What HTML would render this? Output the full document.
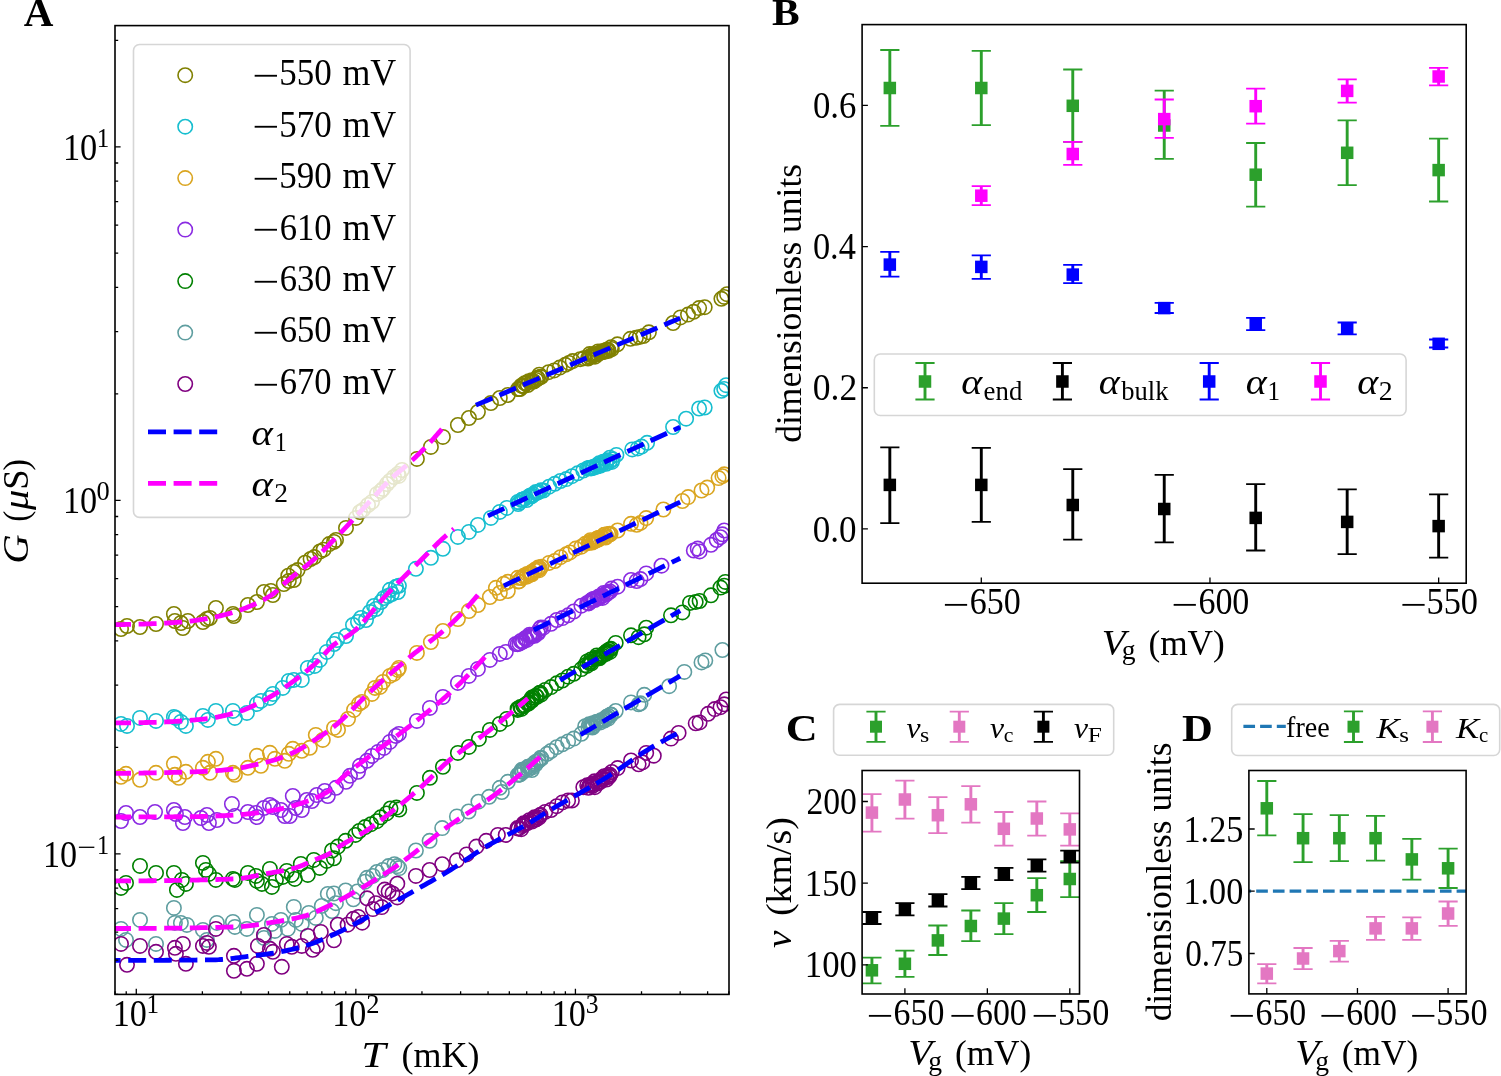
<!DOCTYPE html>
<html><head><meta charset="utf-8"><title>Figure</title><style>html,body{margin:0;padding:0;background:#fff;overflow:hidden;}svg{display:block;}</style></head><body>
<svg width="1501" height="1076" viewBox="0 0 1501 1076" font-family="'Liberation Serif', 'DejaVu Serif', serif"><rect width="100%" height="100%" fill="#fff"/><defs><clipPath id="clipA"><rect x="115.0" y="25.6" width="614.0" height="968.8"/></clipPath>
<clipPath id="clipB"><rect x="862.1" y="24.6" width="604.1" height="558.6"/></clipPath>
<clipPath id="clipC"><rect x="862.1" y="770.5" width="217.4" height="223.5"/></clipPath>
<clipPath id="clipD"><rect x="1248.9" y="770.5" width="217.2" height="223.4"/></clipPath></defs>
<g clip-path="url(#clipA)" fill="none" stroke-width="1.60">
<g stroke="#808000">
<circle cx="121.0" cy="629.0" r="7.2"/>
<circle cx="127.0" cy="626.0" r="7.2"/>
<circle cx="140.0" cy="627.0" r="7.2"/>
<circle cx="156.0" cy="624.0" r="7.2"/>
<circle cx="173.9" cy="614.0" r="7.2"/>
<circle cx="174.9" cy="621.0" r="7.2"/>
<circle cx="180.9" cy="623.0" r="7.2"/>
<circle cx="182.9" cy="628.0" r="7.2"/>
<circle cx="187.9" cy="621.0" r="7.2"/>
<circle cx="202.9" cy="622.0" r="7.2"/>
<circle cx="206.9" cy="619.0" r="7.2"/>
<circle cx="209.9" cy="618.0" r="7.2"/>
<circle cx="215.9" cy="608.0" r="7.2"/>
<circle cx="232.9" cy="614.0" r="7.2"/>
<circle cx="233.9" cy="616.0" r="7.2"/>
<circle cx="247.9" cy="605.0" r="7.2"/>
<circle cx="256.9" cy="602.0" r="7.2"/>
<circle cx="263.9" cy="592.0" r="7.2"/>
<circle cx="270.9" cy="591.0" r="7.2"/>
<circle cx="272.9" cy="595.0" r="7.2"/>
<circle cx="283.8" cy="584.0" r="7.2"/>
<circle cx="288.8" cy="581.0" r="7.2"/>
<circle cx="293.8" cy="580.0" r="7.2"/>
<circle cx="288.3" cy="575.7" r="7.2"/>
<circle cx="293.9" cy="572.0" r="7.2"/>
<circle cx="297.6" cy="570.1" r="7.2"/>
<circle cx="305.1" cy="562.7" r="7.2"/>
<circle cx="310.6" cy="559.0" r="7.2"/>
<circle cx="314.3" cy="557.1" r="7.2"/>
<circle cx="319.9" cy="551.5" r="7.2"/>
<circle cx="323.6" cy="549.7" r="7.2"/>
<circle cx="329.2" cy="544.1" r="7.2"/>
<circle cx="334.0" cy="541.9" r="7.2"/>
<circle cx="336.0" cy="539.9" r="7.2"/>
<circle cx="346.0" cy="527.9" r="7.2"/>
<circle cx="356.0" cy="517.9" r="7.2"/>
<circle cx="363.0" cy="509.9" r="7.2"/>
<circle cx="372.0" cy="501.9" r="7.2"/>
<circle cx="377.0" cy="493.9" r="7.2"/>
<circle cx="383.0" cy="488.9" r="7.2"/>
<circle cx="389.9" cy="480.9" r="7.2"/>
<circle cx="397.9" cy="473.9" r="7.2"/>
<circle cx="398.9" cy="475.9" r="7.2"/>
<circle cx="416.9" cy="458.9" r="7.2"/>
<circle cx="430.9" cy="446.9" r="7.2"/>
<circle cx="442.9" cy="436.9" r="7.2"/>
<circle cx="457.9" cy="425.0" r="7.2"/>
<circle cx="468.9" cy="418.0" r="7.2"/>
<circle cx="477.9" cy="412.0" r="7.2"/>
<circle cx="490.9" cy="403.0" r="7.2"/>
<circle cx="499.8" cy="398.0" r="7.2"/>
<circle cx="507.8" cy="395.0" r="7.2"/>
<circle cx="518.8" cy="389.0" r="7.2"/>
<circle cx="523.8" cy="386.0" r="7.2"/>
<circle cx="527.8" cy="385.0" r="7.2"/>
<circle cx="533.7" cy="381.5" r="7.2"/>
<circle cx="537.4" cy="377.8" r="7.2"/>
<circle cx="541.2" cy="376.9" r="7.2"/>
<circle cx="548.6" cy="372.2" r="7.2"/>
<circle cx="554.2" cy="370.4" r="7.2"/>
<circle cx="559.7" cy="367.6" r="7.2"/>
<circle cx="565.3" cy="364.8" r="7.2"/>
<circle cx="569.0" cy="362.9" r="7.2"/>
<circle cx="572.7" cy="361.1" r="7.2"/>
<circle cx="580.2" cy="359.2" r="7.2"/>
<circle cx="583.9" cy="358.3" r="7.2"/>
<circle cx="589.5" cy="356.4" r="7.2"/>
<circle cx="593.2" cy="355.5" r="7.2"/>
<circle cx="595.0" cy="354.6" r="7.2"/>
<circle cx="596.9" cy="354.6" r="7.2"/>
<circle cx="600.6" cy="352.7" r="7.2"/>
<circle cx="604.3" cy="351.8" r="7.2"/>
<circle cx="608.1" cy="349.9" r="7.2"/>
<circle cx="611.8" cy="349.0" r="7.2"/>
<circle cx="617.4" cy="344.3" r="7.2"/>
<circle cx="630.4" cy="338.8" r="7.2"/>
<circle cx="635.9" cy="337.8" r="7.2"/>
<circle cx="639.7" cy="336.9" r="7.2"/>
<circle cx="643.4" cy="336.0" r="7.2"/>
<circle cx="648.9" cy="332.3" r="7.2"/>
<circle cx="673.1" cy="323.0" r="7.2"/>
<circle cx="680.5" cy="317.4" r="7.2"/>
<circle cx="688.0" cy="314.6" r="7.2"/>
<circle cx="693.6" cy="311.8" r="7.2"/>
<circle cx="699.1" cy="308.1" r="7.2"/>
<circle cx="704.7" cy="307.2" r="7.2"/>
<circle cx="721.4" cy="298.8" r="7.2"/>
<circle cx="724.2" cy="296.9" r="7.2"/>
<circle cx="727.0" cy="294.2" r="7.2"/>
<circle cx="360.0" cy="512.0" r="7.2"/>
<circle cx="368.0" cy="505.0" r="7.2"/>
<circle cx="381.0" cy="491.0" r="7.2"/>
<circle cx="387.0" cy="484.0" r="7.2"/>
<circle cx="394.0" cy="477.0" r="7.2"/>
<circle cx="402.0" cy="470.0" r="7.2"/>
<circle cx="518.0" cy="389.1" r="7.2"/>
<circle cx="520.0" cy="389.0" r="7.2"/>
<circle cx="521.3" cy="385.7" r="7.2"/>
<circle cx="522.6" cy="386.2" r="7.2"/>
<circle cx="524.7" cy="383.2" r="7.2"/>
<circle cx="526.1" cy="383.3" r="7.2"/>
<circle cx="528.7" cy="381.2" r="7.2"/>
<circle cx="531.5" cy="381.8" r="7.2"/>
<circle cx="531.8" cy="380.3" r="7.2"/>
<circle cx="533.4" cy="381.4" r="7.2"/>
<circle cx="536.1" cy="379.9" r="7.2"/>
<circle cx="537.7" cy="378.5" r="7.2"/>
<circle cx="539.3" cy="374.7" r="7.2"/>
<circle cx="540.3" cy="376.8" r="7.2"/>
<circle cx="588.0" cy="358.5" r="7.2"/>
<circle cx="589.6" cy="354.1" r="7.2"/>
<circle cx="589.8" cy="357.2" r="7.2"/>
<circle cx="592.2" cy="355.3" r="7.2"/>
<circle cx="593.4" cy="353.9" r="7.2"/>
<circle cx="595.0" cy="356.7" r="7.2"/>
<circle cx="598.0" cy="354.0" r="7.2"/>
<circle cx="598.1" cy="351.4" r="7.2"/>
<circle cx="600.2" cy="352.3" r="7.2"/>
<circle cx="602.5" cy="352.1" r="7.2"/>
<circle cx="602.9" cy="350.9" r="7.2"/>
<circle cx="604.8" cy="351.3" r="7.2"/>
<circle cx="606.5" cy="349.7" r="7.2"/>
<circle cx="608.0" cy="350.1" r="7.2"/>
<circle cx="608.5" cy="350.9" r="7.2"/>
<circle cx="611.1" cy="347.2" r="7.2"/>
</g>
<g stroke="#17becf">
<circle cx="121.0" cy="723.9" r="7.2"/>
<circle cx="127.0" cy="725.9" r="7.2"/>
<circle cx="140.0" cy="717.9" r="7.2"/>
<circle cx="156.0" cy="720.9" r="7.2"/>
<circle cx="173.9" cy="716.9" r="7.2"/>
<circle cx="175.9" cy="717.9" r="7.2"/>
<circle cx="180.9" cy="721.9" r="7.2"/>
<circle cx="185.9" cy="725.9" r="7.2"/>
<circle cx="202.9" cy="715.9" r="7.2"/>
<circle cx="207.9" cy="719.9" r="7.2"/>
<circle cx="215.9" cy="710.9" r="7.2"/>
<circle cx="232.9" cy="710.9" r="7.2"/>
<circle cx="234.9" cy="717.9" r="7.2"/>
<circle cx="246.9" cy="712.9" r="7.2"/>
<circle cx="256.9" cy="703.9" r="7.2"/>
<circle cx="260.9" cy="700.9" r="7.2"/>
<circle cx="269.9" cy="697.9" r="7.2"/>
<circle cx="272.9" cy="693.9" r="7.2"/>
<circle cx="282.8" cy="687.9" r="7.2"/>
<circle cx="288.8" cy="680.9" r="7.2"/>
<circle cx="293.8" cy="679.9" r="7.2"/>
<circle cx="301.8" cy="679.9" r="7.2"/>
<circle cx="307.8" cy="667.9" r="7.2"/>
<circle cx="314.8" cy="665.9" r="7.2"/>
<circle cx="319.8" cy="659.9" r="7.2"/>
<circle cx="326.8" cy="651.9" r="7.2"/>
<circle cx="389.9" cy="589.8" r="7.2"/>
<circle cx="395.9" cy="586.8" r="7.2"/>
<circle cx="398.9" cy="585.8" r="7.2"/>
<circle cx="415.9" cy="568.8" r="7.2"/>
<circle cx="430.9" cy="557.8" r="7.2"/>
<circle cx="442.9" cy="548.8" r="7.2"/>
<circle cx="457.9" cy="536.9" r="7.2"/>
<circle cx="468.9" cy="531.9" r="7.2"/>
<circle cx="477.9" cy="524.9" r="7.2"/>
<circle cx="490.9" cy="517.9" r="7.2"/>
<circle cx="499.8" cy="511.9" r="7.2"/>
<circle cx="506.8" cy="507.9" r="7.2"/>
<circle cx="517.8" cy="501.9" r="7.2"/>
<circle cx="522.8" cy="499.9" r="7.2"/>
<circle cx="529.8" cy="495.9" r="7.2"/>
<circle cx="334.0" cy="644.0" r="7.2"/>
<circle cx="337.0" cy="640.0" r="7.2"/>
<circle cx="346.0" cy="636.0" r="7.2"/>
<circle cx="353.0" cy="625.0" r="7.2"/>
<circle cx="358.0" cy="622.0" r="7.2"/>
<circle cx="361.0" cy="618.0" r="7.2"/>
<circle cx="366.0" cy="620.0" r="7.2"/>
<circle cx="370.0" cy="612.0" r="7.2"/>
<circle cx="374.0" cy="606.0" r="7.2"/>
<circle cx="376.0" cy="609.0" r="7.2"/>
<circle cx="381.0" cy="602.0" r="7.2"/>
<circle cx="384.0" cy="598.0" r="7.2"/>
<circle cx="387.9" cy="596.0" r="7.2"/>
<circle cx="391.9" cy="594.0" r="7.2"/>
<circle cx="397.9" cy="592.0" r="7.2"/>
<circle cx="609.9" cy="457.7" r="7.2"/>
<circle cx="616.4" cy="454.9" r="7.2"/>
<circle cx="632.2" cy="449.4" r="7.2"/>
<circle cx="637.8" cy="448.4" r="7.2"/>
<circle cx="641.5" cy="446.6" r="7.2"/>
<circle cx="647.1" cy="442.8" r="7.2"/>
<circle cx="673.1" cy="427.0" r="7.2"/>
<circle cx="686.1" cy="418.7" r="7.2"/>
<circle cx="699.1" cy="408.5" r="7.2"/>
<circle cx="704.7" cy="407.5" r="7.2"/>
<circle cx="721.4" cy="390.8" r="7.2"/>
<circle cx="724.2" cy="388.9" r="7.2"/>
<circle cx="726.1" cy="385.2" r="7.2"/>
<circle cx="531.9" cy="496.2" r="7.2"/>
<circle cx="537.6" cy="492.4" r="7.2"/>
<circle cx="543.3" cy="490.5" r="7.2"/>
<circle cx="549.1" cy="486.7" r="7.2"/>
<circle cx="554.8" cy="483.8" r="7.2"/>
<circle cx="560.5" cy="481.0" r="7.2"/>
<circle cx="566.2" cy="479.1" r="7.2"/>
<circle cx="571.9" cy="476.2" r="7.2"/>
<circle cx="577.6" cy="473.3" r="7.2"/>
<circle cx="583.3" cy="470.5" r="7.2"/>
<circle cx="587.2" cy="468.6" r="7.2"/>
<circle cx="592.9" cy="467.6" r="7.2"/>
<circle cx="596.7" cy="466.7" r="7.2"/>
<circle cx="600.5" cy="465.7" r="7.2"/>
<circle cx="606.2" cy="463.8" r="7.2"/>
<circle cx="611.9" cy="461.9" r="7.2"/>
<circle cx="518.2" cy="504.0" r="7.2"/>
<circle cx="519.4" cy="502.6" r="7.2"/>
<circle cx="521.6" cy="500.1" r="7.2"/>
<circle cx="522.4" cy="499.7" r="7.2"/>
<circle cx="524.6" cy="498.8" r="7.2"/>
<circle cx="526.7" cy="500.0" r="7.2"/>
<circle cx="529.3" cy="496.2" r="7.2"/>
<circle cx="531.3" cy="495.3" r="7.2"/>
<circle cx="531.1" cy="496.3" r="7.2"/>
<circle cx="533.3" cy="494.6" r="7.2"/>
<circle cx="536.2" cy="493.0" r="7.2"/>
<circle cx="535.9" cy="492.0" r="7.2"/>
<circle cx="538.9" cy="491.9" r="7.2"/>
<circle cx="540.9" cy="490.3" r="7.2"/>
<circle cx="588.9" cy="467.9" r="7.2"/>
<circle cx="590.1" cy="467.7" r="7.2"/>
<circle cx="591.0" cy="468.4" r="7.2"/>
<circle cx="593.1" cy="467.9" r="7.2"/>
<circle cx="593.9" cy="466.7" r="7.2"/>
<circle cx="596.5" cy="465.6" r="7.2"/>
<circle cx="597.2" cy="466.4" r="7.2"/>
<circle cx="599.2" cy="465.4" r="7.2"/>
<circle cx="599.2" cy="463.3" r="7.2"/>
<circle cx="602.1" cy="463.4" r="7.2"/>
<circle cx="602.0" cy="463.6" r="7.2"/>
<circle cx="603.2" cy="461.7" r="7.2"/>
<circle cx="606.2" cy="462.2" r="7.2"/>
<circle cx="607.2" cy="460.3" r="7.2"/>
<circle cx="609.6" cy="461.6" r="7.2"/>
<circle cx="612.8" cy="459.3" r="7.2"/>
</g>
<g stroke="#daa520">
<circle cx="121.0" cy="776.8" r="7.2"/>
<circle cx="126.0" cy="773.8" r="7.2"/>
<circle cx="140.0" cy="779.8" r="7.2"/>
<circle cx="156.0" cy="772.8" r="7.2"/>
<circle cx="173.9" cy="763.8" r="7.2"/>
<circle cx="174.9" cy="774.8" r="7.2"/>
<circle cx="178.9" cy="777.8" r="7.2"/>
<circle cx="185.9" cy="771.8" r="7.2"/>
<circle cx="202.9" cy="767.8" r="7.2"/>
<circle cx="207.9" cy="761.8" r="7.2"/>
<circle cx="209.9" cy="772.8" r="7.2"/>
<circle cx="215.9" cy="758.8" r="7.2"/>
<circle cx="232.9" cy="772.8" r="7.2"/>
<circle cx="234.9" cy="774.8" r="7.2"/>
<circle cx="247.9" cy="767.8" r="7.2"/>
<circle cx="256.9" cy="755.8" r="7.2"/>
<circle cx="260.9" cy="765.8" r="7.2"/>
<circle cx="269.9" cy="752.8" r="7.2"/>
<circle cx="274.9" cy="758.8" r="7.2"/>
<circle cx="284.8" cy="760.8" r="7.2"/>
<circle cx="288.8" cy="753.8" r="7.2"/>
<circle cx="292.8" cy="748.8" r="7.2"/>
<circle cx="301.8" cy="750.8" r="7.2"/>
<circle cx="309.8" cy="747.8" r="7.2"/>
<circle cx="315.8" cy="734.9" r="7.2"/>
<circle cx="322.8" cy="739.9" r="7.2"/>
<circle cx="495.9" cy="587.8" r="7.2"/>
<circle cx="503.8" cy="583.8" r="7.2"/>
<circle cx="507.8" cy="581.8" r="7.2"/>
<circle cx="517.8" cy="577.8" r="7.2"/>
<circle cx="523.8" cy="575.8" r="7.2"/>
<circle cx="529.8" cy="574.8" r="7.2"/>
<circle cx="334.0" cy="727.9" r="7.2"/>
<circle cx="338.0" cy="729.9" r="7.2"/>
<circle cx="348.0" cy="718.9" r="7.2"/>
<circle cx="354.0" cy="709.9" r="7.2"/>
<circle cx="359.0" cy="703.9" r="7.2"/>
<circle cx="362.0" cy="701.9" r="7.2"/>
<circle cx="372.0" cy="693.9" r="7.2"/>
<circle cx="375.0" cy="687.9" r="7.2"/>
<circle cx="380.0" cy="686.9" r="7.2"/>
<circle cx="383.0" cy="681.9" r="7.2"/>
<circle cx="389.9" cy="675.9" r="7.2"/>
<circle cx="393.9" cy="673.9" r="7.2"/>
<circle cx="397.9" cy="669.9" r="7.2"/>
<circle cx="398.9" cy="667.9" r="7.2"/>
<circle cx="416.9" cy="652.9" r="7.2"/>
<circle cx="430.9" cy="642.0" r="7.2"/>
<circle cx="442.9" cy="631.0" r="7.2"/>
<circle cx="457.9" cy="619.0" r="7.2"/>
<circle cx="468.9" cy="611.0" r="7.2"/>
<circle cx="477.9" cy="605.0" r="7.2"/>
<circle cx="489.9" cy="597.0" r="7.2"/>
<circle cx="499.8" cy="593.0" r="7.2"/>
<circle cx="507.8" cy="591.0" r="7.2"/>
<circle cx="531.9" cy="574.3" r="7.2"/>
<circle cx="537.6" cy="569.5" r="7.2"/>
<circle cx="541.4" cy="566.7" r="7.2"/>
<circle cx="549.1" cy="562.9" r="7.2"/>
<circle cx="554.8" cy="561.0" r="7.2"/>
<circle cx="560.5" cy="557.2" r="7.2"/>
<circle cx="566.2" cy="554.3" r="7.2"/>
<circle cx="570.0" cy="552.4" r="7.2"/>
<circle cx="575.7" cy="548.6" r="7.2"/>
<circle cx="581.4" cy="546.7" r="7.2"/>
<circle cx="585.2" cy="543.8" r="7.2"/>
<circle cx="591.0" cy="541.9" r="7.2"/>
<circle cx="594.8" cy="541.0" r="7.2"/>
<circle cx="596.7" cy="540.0" r="7.2"/>
<circle cx="598.6" cy="538.1" r="7.2"/>
<circle cx="602.4" cy="537.2" r="7.2"/>
<circle cx="606.2" cy="536.2" r="7.2"/>
<circle cx="610.0" cy="534.3" r="7.2"/>
<circle cx="617.6" cy="530.5" r="7.2"/>
<circle cx="631.0" cy="523.8" r="7.2"/>
<circle cx="636.7" cy="524.8" r="7.2"/>
<circle cx="640.5" cy="522.9" r="7.2"/>
<circle cx="646.2" cy="518.1" r="7.2"/>
<circle cx="663.4" cy="509.5" r="7.2"/>
<circle cx="682.4" cy="501.0" r="7.2"/>
<circle cx="688.1" cy="497.1" r="7.2"/>
<circle cx="701.5" cy="490.5" r="7.2"/>
<circle cx="707.2" cy="487.6" r="7.2"/>
<circle cx="718.6" cy="478.1" r="7.2"/>
<circle cx="722.4" cy="476.2" r="7.2"/>
<circle cx="724.3" cy="474.3" r="7.2"/>
<circle cx="518.1" cy="581.6" r="7.2"/>
<circle cx="519.3" cy="581.2" r="7.2"/>
<circle cx="521.4" cy="578.1" r="7.2"/>
<circle cx="521.7" cy="577.7" r="7.2"/>
<circle cx="524.2" cy="576.5" r="7.2"/>
<circle cx="527.1" cy="573.9" r="7.2"/>
<circle cx="526.9" cy="576.7" r="7.2"/>
<circle cx="531.1" cy="572.3" r="7.2"/>
<circle cx="530.8" cy="573.1" r="7.2"/>
<circle cx="534.5" cy="570.1" r="7.2"/>
<circle cx="535.0" cy="570.1" r="7.2"/>
<circle cx="538.1" cy="567.6" r="7.2"/>
<circle cx="539.3" cy="570.2" r="7.2"/>
<circle cx="539.8" cy="568.1" r="7.2"/>
<circle cx="588.8" cy="543.0" r="7.2"/>
<circle cx="589.5" cy="542.1" r="7.2"/>
<circle cx="590.5" cy="540.2" r="7.2"/>
<circle cx="592.3" cy="542.6" r="7.2"/>
<circle cx="593.7" cy="541.0" r="7.2"/>
<circle cx="595.7" cy="540.3" r="7.2"/>
<circle cx="596.9" cy="538.6" r="7.2"/>
<circle cx="598.5" cy="539.5" r="7.2"/>
<circle cx="599.2" cy="537.9" r="7.2"/>
<circle cx="601.2" cy="537.5" r="7.2"/>
<circle cx="604.7" cy="534.7" r="7.2"/>
<circle cx="604.3" cy="534.7" r="7.2"/>
<circle cx="605.6" cy="537.5" r="7.2"/>
<circle cx="608.2" cy="533.9" r="7.2"/>
<circle cx="610.6" cy="533.9" r="7.2"/>
<circle cx="609.8" cy="533.8" r="7.2"/>
</g>
<g stroke="#8a2be2">
<circle cx="121.0" cy="821.0" r="7.2"/>
<circle cx="126.0" cy="813.0" r="7.2"/>
<circle cx="140.0" cy="817.0" r="7.2"/>
<circle cx="155.0" cy="812.0" r="7.2"/>
<circle cx="173.9" cy="810.0" r="7.2"/>
<circle cx="175.9" cy="814.0" r="7.2"/>
<circle cx="182.9" cy="823.0" r="7.2"/>
<circle cx="184.9" cy="817.0" r="7.2"/>
<circle cx="200.9" cy="818.0" r="7.2"/>
<circle cx="206.9" cy="815.0" r="7.2"/>
<circle cx="208.9" cy="823.0" r="7.2"/>
<circle cx="216.9" cy="820.0" r="7.2"/>
<circle cx="231.9" cy="804.0" r="7.2"/>
<circle cx="234.9" cy="816.0" r="7.2"/>
<circle cx="247.9" cy="812.0" r="7.2"/>
<circle cx="255.9" cy="813.0" r="7.2"/>
<circle cx="256.9" cy="817.0" r="7.2"/>
<circle cx="263.9" cy="808.0" r="7.2"/>
<circle cx="269.9" cy="805.0" r="7.2"/>
<circle cx="272.9" cy="807.0" r="7.2"/>
<circle cx="280.9" cy="810.0" r="7.2"/>
<circle cx="284.8" cy="816.0" r="7.2"/>
<circle cx="289.8" cy="816.0" r="7.2"/>
<circle cx="292.8" cy="796.0" r="7.2"/>
<circle cx="295.8" cy="808.0" r="7.2"/>
<circle cx="301.8" cy="810.0" r="7.2"/>
<circle cx="306.8" cy="800.0" r="7.2"/>
<circle cx="311.8" cy="801.0" r="7.2"/>
<circle cx="316.8" cy="795.0" r="7.2"/>
<circle cx="324.8" cy="791.0" r="7.2"/>
<circle cx="327.8" cy="796.0" r="7.2"/>
<circle cx="336.0" cy="787.8" r="7.2"/>
<circle cx="346.0" cy="781.8" r="7.2"/>
<circle cx="350.0" cy="775.8" r="7.2"/>
<circle cx="358.0" cy="771.8" r="7.2"/>
<circle cx="360.0" cy="765.8" r="7.2"/>
<circle cx="367.0" cy="760.8" r="7.2"/>
<circle cx="372.0" cy="755.9" r="7.2"/>
<circle cx="378.0" cy="751.9" r="7.2"/>
<circle cx="384.0" cy="747.9" r="7.2"/>
<circle cx="389.9" cy="741.9" r="7.2"/>
<circle cx="395.9" cy="735.9" r="7.2"/>
<circle cx="398.9" cy="733.9" r="7.2"/>
<circle cx="416.9" cy="720.9" r="7.2"/>
<circle cx="429.9" cy="707.9" r="7.2"/>
<circle cx="442.9" cy="696.9" r="7.2"/>
<circle cx="457.9" cy="682.9" r="7.2"/>
<circle cx="468.9" cy="675.9" r="7.2"/>
<circle cx="477.9" cy="668.9" r="7.2"/>
<circle cx="489.9" cy="659.9" r="7.2"/>
<circle cx="499.8" cy="653.9" r="7.2"/>
<circle cx="505.8" cy="651.9" r="7.2"/>
<circle cx="515.8" cy="644.0" r="7.2"/>
<circle cx="520.8" cy="641.0" r="7.2"/>
<circle cx="525.8" cy="638.0" r="7.2"/>
<circle cx="529.8" cy="636.0" r="7.2"/>
<circle cx="531.9" cy="635.3" r="7.2"/>
<circle cx="537.6" cy="632.4" r="7.2"/>
<circle cx="543.3" cy="627.7" r="7.2"/>
<circle cx="551.0" cy="623.8" r="7.2"/>
<circle cx="556.7" cy="620.0" r="7.2"/>
<circle cx="562.4" cy="618.1" r="7.2"/>
<circle cx="568.1" cy="615.3" r="7.2"/>
<circle cx="573.8" cy="611.5" r="7.2"/>
<circle cx="581.4" cy="605.7" r="7.2"/>
<circle cx="587.2" cy="602.9" r="7.2"/>
<circle cx="591.0" cy="601.0" r="7.2"/>
<circle cx="594.8" cy="600.0" r="7.2"/>
<circle cx="598.6" cy="598.1" r="7.2"/>
<circle cx="602.4" cy="595.3" r="7.2"/>
<circle cx="606.2" cy="593.4" r="7.2"/>
<circle cx="610.0" cy="591.5" r="7.2"/>
<circle cx="617.6" cy="586.7" r="7.2"/>
<circle cx="631.0" cy="580.0" r="7.2"/>
<circle cx="636.7" cy="581.0" r="7.2"/>
<circle cx="640.5" cy="579.1" r="7.2"/>
<circle cx="646.2" cy="573.4" r="7.2"/>
<circle cx="661.5" cy="565.7" r="7.2"/>
<circle cx="693.8" cy="550.5" r="7.2"/>
<circle cx="697.7" cy="548.6" r="7.2"/>
<circle cx="699.6" cy="551.4" r="7.2"/>
<circle cx="711.0" cy="544.8" r="7.2"/>
<circle cx="716.7" cy="540.0" r="7.2"/>
<circle cx="720.5" cy="537.2" r="7.2"/>
<circle cx="722.4" cy="534.3" r="7.2"/>
<circle cx="724.3" cy="530.5" r="7.2"/>
<circle cx="517.6" cy="644.2" r="7.2"/>
<circle cx="519.4" cy="643.5" r="7.2"/>
<circle cx="522.0" cy="641.9" r="7.2"/>
<circle cx="523.1" cy="641.5" r="7.2"/>
<circle cx="525.0" cy="638.5" r="7.2"/>
<circle cx="526.9" cy="639.9" r="7.2"/>
<circle cx="529.6" cy="634.7" r="7.2"/>
<circle cx="530.9" cy="636.7" r="7.2"/>
<circle cx="532.5" cy="635.3" r="7.2"/>
<circle cx="533.5" cy="635.1" r="7.2"/>
<circle cx="534.6" cy="635.8" r="7.2"/>
<circle cx="538.2" cy="633.1" r="7.2"/>
<circle cx="540.0" cy="628.6" r="7.2"/>
<circle cx="540.9" cy="627.4" r="7.2"/>
<circle cx="588.7" cy="602.9" r="7.2"/>
<circle cx="588.7" cy="603.4" r="7.2"/>
<circle cx="591.1" cy="600.3" r="7.2"/>
<circle cx="593.3" cy="599.5" r="7.2"/>
<circle cx="592.8" cy="599.3" r="7.2"/>
<circle cx="594.0" cy="598.9" r="7.2"/>
<circle cx="597.4" cy="598.4" r="7.2"/>
<circle cx="598.8" cy="596.4" r="7.2"/>
<circle cx="600.1" cy="597.1" r="7.2"/>
<circle cx="601.8" cy="596.1" r="7.2"/>
<circle cx="602.6" cy="597.9" r="7.2"/>
<circle cx="603.7" cy="592.9" r="7.2"/>
<circle cx="606.3" cy="594.4" r="7.2"/>
<circle cx="607.2" cy="592.7" r="7.2"/>
<circle cx="608.2" cy="592.2" r="7.2"/>
<circle cx="611.4" cy="588.6" r="7.2"/>
</g>
<g stroke="#008000">
<circle cx="121.0" cy="887.9" r="7.2"/>
<circle cx="126.0" cy="882.9" r="7.2"/>
<circle cx="140.0" cy="865.9" r="7.2"/>
<circle cx="156.0" cy="872.9" r="7.2"/>
<circle cx="173.9" cy="872.9" r="7.2"/>
<circle cx="176.9" cy="889.9" r="7.2"/>
<circle cx="181.9" cy="879.9" r="7.2"/>
<circle cx="185.9" cy="883.9" r="7.2"/>
<circle cx="202.9" cy="862.9" r="7.2"/>
<circle cx="205.9" cy="869.9" r="7.2"/>
<circle cx="208.9" cy="873.9" r="7.2"/>
<circle cx="215.9" cy="879.9" r="7.2"/>
<circle cx="232.9" cy="878.9" r="7.2"/>
<circle cx="234.9" cy="879.9" r="7.2"/>
<circle cx="247.9" cy="872.9" r="7.2"/>
<circle cx="255.9" cy="875.9" r="7.2"/>
<circle cx="256.9" cy="880.9" r="7.2"/>
<circle cx="261.9" cy="883.9" r="7.2"/>
<circle cx="269.9" cy="868.9" r="7.2"/>
<circle cx="271.9" cy="886.9" r="7.2"/>
<circle cx="275.9" cy="879.9" r="7.2"/>
<circle cx="282.8" cy="876.9" r="7.2"/>
<circle cx="286.8" cy="870.9" r="7.2"/>
<circle cx="291.8" cy="874.9" r="7.2"/>
<circle cx="294.8" cy="878.9" r="7.2"/>
<circle cx="300.8" cy="863.9" r="7.2"/>
<circle cx="307.8" cy="874.9" r="7.2"/>
<circle cx="313.8" cy="859.9" r="7.2"/>
<circle cx="319.8" cy="867.9" r="7.2"/>
<circle cx="326.8" cy="860.9" r="7.2"/>
<circle cx="429.9" cy="777.8" r="7.2"/>
<circle cx="442.9" cy="766.8" r="7.2"/>
<circle cx="457.9" cy="752.9" r="7.2"/>
<circle cx="468.9" cy="746.9" r="7.2"/>
<circle cx="478.9" cy="738.9" r="7.2"/>
<circle cx="489.9" cy="729.9" r="7.2"/>
<circle cx="499.8" cy="723.9" r="7.2"/>
<circle cx="506.8" cy="718.9" r="7.2"/>
<circle cx="517.8" cy="709.9" r="7.2"/>
<circle cx="523.8" cy="705.9" r="7.2"/>
<circle cx="527.8" cy="703.9" r="7.2"/>
<circle cx="333.9" cy="858.3" r="7.2"/>
<circle cx="332.0" cy="850.5" r="7.2"/>
<circle cx="337.8" cy="846.6" r="7.2"/>
<circle cx="345.6" cy="840.8" r="7.2"/>
<circle cx="355.4" cy="834.9" r="7.2"/>
<circle cx="359.3" cy="831.0" r="7.2"/>
<circle cx="365.1" cy="827.1" r="7.2"/>
<circle cx="371.0" cy="824.2" r="7.2"/>
<circle cx="376.9" cy="821.2" r="7.2"/>
<circle cx="380.8" cy="817.3" r="7.2"/>
<circle cx="386.6" cy="813.4" r="7.2"/>
<circle cx="390.5" cy="808.5" r="7.2"/>
<circle cx="396.4" cy="807.6" r="7.2"/>
<circle cx="399.3" cy="809.5" r="7.2"/>
<circle cx="416.9" cy="792.9" r="7.2"/>
<circle cx="615.7" cy="642.9" r="7.2"/>
<circle cx="631.0" cy="635.3" r="7.2"/>
<circle cx="638.6" cy="637.2" r="7.2"/>
<circle cx="644.3" cy="634.3" r="7.2"/>
<circle cx="646.2" cy="627.7" r="7.2"/>
<circle cx="671.0" cy="615.3" r="7.2"/>
<circle cx="682.4" cy="612.4" r="7.2"/>
<circle cx="690.0" cy="602.9" r="7.2"/>
<circle cx="695.7" cy="601.9" r="7.2"/>
<circle cx="699.6" cy="601.0" r="7.2"/>
<circle cx="711.0" cy="595.3" r="7.2"/>
<circle cx="720.5" cy="587.6" r="7.2"/>
<circle cx="724.3" cy="585.7" r="7.2"/>
<circle cx="725.3" cy="581.9" r="7.2"/>
<circle cx="531.9" cy="697.6" r="7.2"/>
<circle cx="535.7" cy="695.7" r="7.2"/>
<circle cx="539.5" cy="692.9" r="7.2"/>
<circle cx="545.2" cy="690.0" r="7.2"/>
<circle cx="551.0" cy="687.1" r="7.2"/>
<circle cx="556.7" cy="683.3" r="7.2"/>
<circle cx="562.4" cy="680.5" r="7.2"/>
<circle cx="568.1" cy="676.7" r="7.2"/>
<circle cx="573.8" cy="673.8" r="7.2"/>
<circle cx="581.4" cy="669.1" r="7.2"/>
<circle cx="585.2" cy="665.2" r="7.2"/>
<circle cx="587.2" cy="661.4" r="7.2"/>
<circle cx="591.0" cy="659.5" r="7.2"/>
<circle cx="594.8" cy="658.6" r="7.2"/>
<circle cx="598.6" cy="657.6" r="7.2"/>
<circle cx="602.4" cy="655.7" r="7.2"/>
<circle cx="606.2" cy="653.8" r="7.2"/>
<circle cx="610.0" cy="651.9" r="7.2"/>
<circle cx="517.6" cy="708.7" r="7.2"/>
<circle cx="520.4" cy="707.0" r="7.2"/>
<circle cx="521.5" cy="708.9" r="7.2"/>
<circle cx="523.4" cy="706.3" r="7.2"/>
<circle cx="524.8" cy="705.1" r="7.2"/>
<circle cx="527.8" cy="702.8" r="7.2"/>
<circle cx="528.6" cy="702.3" r="7.2"/>
<circle cx="528.6" cy="703.3" r="7.2"/>
<circle cx="531.6" cy="700.8" r="7.2"/>
<circle cx="532.3" cy="699.8" r="7.2"/>
<circle cx="533.1" cy="697.6" r="7.2"/>
<circle cx="537.0" cy="696.8" r="7.2"/>
<circle cx="540.3" cy="692.8" r="7.2"/>
<circle cx="541.0" cy="694.6" r="7.2"/>
<circle cx="587.0" cy="665.9" r="7.2"/>
<circle cx="589.4" cy="663.2" r="7.2"/>
<circle cx="591.1" cy="661.7" r="7.2"/>
<circle cx="591.5" cy="663.3" r="7.2"/>
<circle cx="595.5" cy="658.0" r="7.2"/>
<circle cx="596.8" cy="657.4" r="7.2"/>
<circle cx="596.8" cy="655.5" r="7.2"/>
<circle cx="599.4" cy="658.3" r="7.2"/>
<circle cx="600.6" cy="656.7" r="7.2"/>
<circle cx="599.7" cy="657.2" r="7.2"/>
<circle cx="603.5" cy="654.4" r="7.2"/>
<circle cx="604.8" cy="652.9" r="7.2"/>
<circle cx="606.5" cy="651.9" r="7.2"/>
<circle cx="607.1" cy="650.9" r="7.2"/>
<circle cx="609.3" cy="649.6" r="7.2"/>
<circle cx="610.9" cy="648.8" r="7.2"/>
</g>
<g stroke="#5f9ea0">
<circle cx="121.0" cy="928.9" r="7.2"/>
<circle cx="126.0" cy="939.9" r="7.2"/>
<circle cx="140.0" cy="919.9" r="7.2"/>
<circle cx="156.0" cy="943.9" r="7.2"/>
<circle cx="173.9" cy="907.9" r="7.2"/>
<circle cx="174.9" cy="922.9" r="7.2"/>
<circle cx="180.9" cy="922.9" r="7.2"/>
<circle cx="186.9" cy="924.9" r="7.2"/>
<circle cx="202.9" cy="929.9" r="7.2"/>
<circle cx="206.9" cy="939.9" r="7.2"/>
<circle cx="216.9" cy="922.9" r="7.2"/>
<circle cx="232.9" cy="921.9" r="7.2"/>
<circle cx="234.9" cy="926.9" r="7.2"/>
<circle cx="246.9" cy="928.9" r="7.2"/>
<circle cx="256.9" cy="914.9" r="7.2"/>
<circle cx="263.9" cy="937.9" r="7.2"/>
<circle cx="271.9" cy="923.9" r="7.2"/>
<circle cx="274.9" cy="930.9" r="7.2"/>
<circle cx="280.9" cy="919.9" r="7.2"/>
<circle cx="287.8" cy="928.9" r="7.2"/>
<circle cx="293.8" cy="906.9" r="7.2"/>
<circle cx="295.8" cy="919.9" r="7.2"/>
<circle cx="301.8" cy="923.9" r="7.2"/>
<circle cx="308.8" cy="912.9" r="7.2"/>
<circle cx="315.8" cy="917.9" r="7.2"/>
<circle cx="321.8" cy="905.9" r="7.2"/>
<circle cx="327.8" cy="893.9" r="7.2"/>
<circle cx="499.8" cy="787.8" r="7.2"/>
<circle cx="507.8" cy="781.8" r="7.2"/>
<circle cx="517.8" cy="774.8" r="7.2"/>
<circle cx="521.8" cy="769.8" r="7.2"/>
<circle cx="527.8" cy="766.8" r="7.2"/>
<circle cx="332.0" cy="911.0" r="7.2"/>
<circle cx="335.9" cy="903.2" r="7.2"/>
<circle cx="333.9" cy="893.5" r="7.2"/>
<circle cx="345.6" cy="890.5" r="7.2"/>
<circle cx="353.4" cy="899.3" r="7.2"/>
<circle cx="357.3" cy="891.5" r="7.2"/>
<circle cx="365.1" cy="881.7" r="7.2"/>
<circle cx="367.1" cy="877.8" r="7.2"/>
<circle cx="372.9" cy="875.9" r="7.2"/>
<circle cx="376.9" cy="872.0" r="7.2"/>
<circle cx="382.7" cy="870.0" r="7.2"/>
<circle cx="388.6" cy="866.1" r="7.2"/>
<circle cx="394.4" cy="864.2" r="7.2"/>
<circle cx="397.3" cy="866.1" r="7.2"/>
<circle cx="399.3" cy="868.1" r="7.2"/>
<circle cx="415.9" cy="850.5" r="7.2"/>
<circle cx="429.6" cy="840.8" r="7.2"/>
<circle cx="442.2" cy="828.1" r="7.2"/>
<circle cx="456.9" cy="816.4" r="7.2"/>
<circle cx="468.6" cy="811.5" r="7.2"/>
<circle cx="478.4" cy="801.7" r="7.2"/>
<circle cx="489.1" cy="796.8" r="7.2"/>
<circle cx="501.8" cy="792.0" r="7.2"/>
<circle cx="531.9" cy="770.0" r="7.2"/>
<circle cx="535.7" cy="764.3" r="7.2"/>
<circle cx="541.4" cy="758.6" r="7.2"/>
<circle cx="547.1" cy="753.8" r="7.2"/>
<circle cx="551.0" cy="751.0" r="7.2"/>
<circle cx="556.7" cy="747.2" r="7.2"/>
<circle cx="562.4" cy="744.3" r="7.2"/>
<circle cx="568.1" cy="741.4" r="7.2"/>
<circle cx="573.8" cy="738.6" r="7.2"/>
<circle cx="581.4" cy="733.8" r="7.2"/>
<circle cx="585.2" cy="726.2" r="7.2"/>
<circle cx="589.1" cy="724.3" r="7.2"/>
<circle cx="592.9" cy="723.3" r="7.2"/>
<circle cx="596.7" cy="722.4" r="7.2"/>
<circle cx="600.5" cy="722.4" r="7.2"/>
<circle cx="604.3" cy="720.5" r="7.2"/>
<circle cx="608.1" cy="718.6" r="7.2"/>
<circle cx="615.7" cy="711.0" r="7.2"/>
<circle cx="631.0" cy="702.4" r="7.2"/>
<circle cx="638.6" cy="704.3" r="7.2"/>
<circle cx="640.5" cy="703.3" r="7.2"/>
<circle cx="644.3" cy="694.8" r="7.2"/>
<circle cx="669.1" cy="686.2" r="7.2"/>
<circle cx="684.3" cy="671.9" r="7.2"/>
<circle cx="701.5" cy="662.4" r="7.2"/>
<circle cx="705.3" cy="660.5" r="7.2"/>
<circle cx="722.4" cy="650.0" r="7.2"/>
<circle cx="519.2" cy="774.7" r="7.2"/>
<circle cx="520.2" cy="774.4" r="7.2"/>
<circle cx="521.5" cy="771.2" r="7.2"/>
<circle cx="522.8" cy="772.0" r="7.2"/>
<circle cx="524.6" cy="769.9" r="7.2"/>
<circle cx="528.1" cy="769.5" r="7.2"/>
<circle cx="529.0" cy="766.7" r="7.2"/>
<circle cx="530.4" cy="767.4" r="7.2"/>
<circle cx="531.9" cy="767.6" r="7.2"/>
<circle cx="533.0" cy="764.3" r="7.2"/>
<circle cx="535.6" cy="762.0" r="7.2"/>
<circle cx="538.2" cy="761.2" r="7.2"/>
<circle cx="538.9" cy="760.4" r="7.2"/>
<circle cx="540.8" cy="757.7" r="7.2"/>
<circle cx="588.4" cy="727.3" r="7.2"/>
<circle cx="591.1" cy="724.6" r="7.2"/>
<circle cx="590.9" cy="726.6" r="7.2"/>
<circle cx="592.4" cy="727.5" r="7.2"/>
<circle cx="593.3" cy="726.3" r="7.2"/>
<circle cx="595.9" cy="722.3" r="7.2"/>
<circle cx="596.2" cy="722.3" r="7.2"/>
<circle cx="597.8" cy="721.7" r="7.2"/>
<circle cx="601.3" cy="720.7" r="7.2"/>
<circle cx="601.1" cy="720.2" r="7.2"/>
<circle cx="604.2" cy="718.9" r="7.2"/>
<circle cx="606.1" cy="717.8" r="7.2"/>
<circle cx="606.6" cy="716.8" r="7.2"/>
<circle cx="608.4" cy="716.0" r="7.2"/>
<circle cx="611.0" cy="714.8" r="7.2"/>
<circle cx="610.8" cy="714.5" r="7.2"/>
</g>
<g stroke="#800080">
<circle cx="121.0" cy="943.9" r="7.2"/>
<circle cx="127.0" cy="964.8" r="7.2"/>
<circle cx="140.0" cy="945.9" r="7.2"/>
<circle cx="156.0" cy="951.8" r="7.2"/>
<circle cx="174.9" cy="947.8" r="7.2"/>
<circle cx="175.9" cy="953.8" r="7.2"/>
<circle cx="182.9" cy="943.9" r="7.2"/>
<circle cx="185.9" cy="963.8" r="7.2"/>
<circle cx="202.9" cy="945.9" r="7.2"/>
<circle cx="206.9" cy="942.9" r="7.2"/>
<circle cx="208.9" cy="946.8" r="7.2"/>
<circle cx="215.9" cy="928.9" r="7.2"/>
<circle cx="233.9" cy="955.8" r="7.2"/>
<circle cx="233.9" cy="970.8" r="7.2"/>
<circle cx="246.9" cy="968.8" r="7.2"/>
<circle cx="256.9" cy="963.8" r="7.2"/>
<circle cx="257.9" cy="945.9" r="7.2"/>
<circle cx="263.9" cy="934.9" r="7.2"/>
<circle cx="269.9" cy="948.8" r="7.2"/>
<circle cx="272.9" cy="951.8" r="7.2"/>
<circle cx="281.8" cy="966.8" r="7.2"/>
<circle cx="286.8" cy="943.9" r="7.2"/>
<circle cx="291.8" cy="946.8" r="7.2"/>
<circle cx="301.8" cy="945.9" r="7.2"/>
<circle cx="307.8" cy="935.9" r="7.2"/>
<circle cx="312.8" cy="949.8" r="7.2"/>
<circle cx="316.8" cy="945.9" r="7.2"/>
<circle cx="320.8" cy="931.9" r="7.2"/>
<circle cx="333.9" cy="940.3" r="7.2"/>
<circle cx="337.8" cy="924.7" r="7.2"/>
<circle cx="347.6" cy="924.7" r="7.2"/>
<circle cx="353.4" cy="918.8" r="7.2"/>
<circle cx="358.3" cy="916.9" r="7.2"/>
<circle cx="362.2" cy="922.7" r="7.2"/>
<circle cx="367.1" cy="898.3" r="7.2"/>
<circle cx="372.9" cy="909.1" r="7.2"/>
<circle cx="375.9" cy="903.2" r="7.2"/>
<circle cx="381.7" cy="907.1" r="7.2"/>
<circle cx="384.7" cy="889.6" r="7.2"/>
<circle cx="388.6" cy="891.5" r="7.2"/>
<circle cx="392.5" cy="893.5" r="7.2"/>
<circle cx="397.3" cy="883.7" r="7.2"/>
<circle cx="397.3" cy="897.4" r="7.2"/>
<circle cx="415.9" cy="875.9" r="7.2"/>
<circle cx="429.6" cy="870.0" r="7.2"/>
<circle cx="442.2" cy="864.2" r="7.2"/>
<circle cx="456.9" cy="860.3" r="7.2"/>
<circle cx="466.6" cy="854.4" r="7.2"/>
<circle cx="476.4" cy="846.6" r="7.2"/>
<circle cx="486.2" cy="840.8" r="7.2"/>
<circle cx="497.9" cy="834.9" r="7.2"/>
<circle cx="505.7" cy="834.9" r="7.2"/>
<circle cx="517.4" cy="828.1" r="7.2"/>
<circle cx="523.3" cy="825.1" r="7.2"/>
<circle cx="527.2" cy="823.2" r="7.2"/>
<circle cx="531.9" cy="821.5" r="7.2"/>
<circle cx="535.7" cy="817.7" r="7.2"/>
<circle cx="539.5" cy="815.7" r="7.2"/>
<circle cx="545.2" cy="811.9" r="7.2"/>
<circle cx="551.0" cy="810.0" r="7.2"/>
<circle cx="556.7" cy="806.2" r="7.2"/>
<circle cx="562.4" cy="802.4" r="7.2"/>
<circle cx="568.1" cy="800.5" r="7.2"/>
<circle cx="571.9" cy="800.5" r="7.2"/>
<circle cx="583.3" cy="787.2" r="7.2"/>
<circle cx="587.2" cy="785.3" r="7.2"/>
<circle cx="592.9" cy="783.4" r="7.2"/>
<circle cx="594.8" cy="787.2" r="7.2"/>
<circle cx="598.6" cy="781.5" r="7.2"/>
<circle cx="602.4" cy="779.5" r="7.2"/>
<circle cx="606.2" cy="777.6" r="7.2"/>
<circle cx="610.0" cy="774.8" r="7.2"/>
<circle cx="617.6" cy="768.1" r="7.2"/>
<circle cx="631.0" cy="760.5" r="7.2"/>
<circle cx="638.6" cy="764.3" r="7.2"/>
<circle cx="642.4" cy="762.4" r="7.2"/>
<circle cx="646.2" cy="752.9" r="7.2"/>
<circle cx="653.8" cy="755.7" r="7.2"/>
<circle cx="671.0" cy="738.6" r="7.2"/>
<circle cx="678.6" cy="732.9" r="7.2"/>
<circle cx="695.7" cy="723.3" r="7.2"/>
<circle cx="699.6" cy="722.4" r="7.2"/>
<circle cx="708.1" cy="713.8" r="7.2"/>
<circle cx="714.8" cy="709.1" r="7.2"/>
<circle cx="720.5" cy="707.2" r="7.2"/>
<circle cx="724.3" cy="704.3" r="7.2"/>
<circle cx="726.2" cy="699.5" r="7.2"/>
<circle cx="518.4" cy="828.7" r="7.2"/>
<circle cx="521.3" cy="829.2" r="7.2"/>
<circle cx="522.0" cy="826.1" r="7.2"/>
<circle cx="523.4" cy="824.1" r="7.2"/>
<circle cx="523.7" cy="823.3" r="7.2"/>
<circle cx="527.2" cy="822.8" r="7.2"/>
<circle cx="527.1" cy="822.7" r="7.2"/>
<circle cx="529.3" cy="820.2" r="7.2"/>
<circle cx="532.8" cy="819.9" r="7.2"/>
<circle cx="534.5" cy="817.3" r="7.2"/>
<circle cx="535.6" cy="819.6" r="7.2"/>
<circle cx="536.1" cy="819.3" r="7.2"/>
<circle cx="538.9" cy="817.7" r="7.2"/>
<circle cx="540.5" cy="814.8" r="7.2"/>
<circle cx="588.4" cy="787.8" r="7.2"/>
<circle cx="589.4" cy="785.3" r="7.2"/>
<circle cx="590.8" cy="784.9" r="7.2"/>
<circle cx="592.3" cy="786.1" r="7.2"/>
<circle cx="593.1" cy="785.2" r="7.2"/>
<circle cx="594.5" cy="781.3" r="7.2"/>
<circle cx="597.8" cy="783.4" r="7.2"/>
<circle cx="598.6" cy="782.0" r="7.2"/>
<circle cx="600.4" cy="781.8" r="7.2"/>
<circle cx="602.6" cy="778.1" r="7.2"/>
<circle cx="601.9" cy="778.7" r="7.2"/>
<circle cx="604.2" cy="776.2" r="7.2"/>
<circle cx="606.5" cy="779.5" r="7.2"/>
<circle cx="608.2" cy="774.9" r="7.2"/>
<circle cx="609.2" cy="776.6" r="7.2"/>
<circle cx="611.8" cy="772.0" r="7.2"/>
</g>
<g fill="none" stroke-width="4.8" stroke-dasharray="18.0,7.6">
<path stroke="#0000ff" d="M475.90,405.14 L481.14,402.91 L486.38,400.68 L491.61,398.45 L496.85,396.21 L502.09,393.98 L507.33,391.75 L512.57,389.52 L517.80,387.29 L523.04,385.06 L528.28,382.83 L533.52,380.59 L538.76,378.36 L543.99,376.13 L549.23,373.90 L554.47,371.67 L559.71,369.44 L564.95,367.21 L570.18,364.97 L575.42,362.74 L580.66,360.51 L585.90,358.28 L591.13,356.05 L596.37,353.82 L601.61,351.59 L606.85,349.35 L612.09,347.12 L617.32,344.89 L622.56,342.66 L627.80,340.43 L633.04,338.20 L638.28,335.97 L643.51,333.73 L648.75,331.50 L653.99,329.27 L659.23,327.04 L664.47,324.81 L669.70,322.58 L674.94,320.35 L680.18,318.11"/>
<path stroke="#0000ff" d="M487.90,515.90 L492.83,513.62 L497.76,511.35 L502.69,509.07 L507.62,506.80 L512.55,504.52 L517.48,502.25 L522.41,499.97 L527.34,497.69 L532.27,495.42 L537.20,493.14 L542.13,490.87 L547.06,488.59 L551.99,486.32 L556.92,484.04 L561.85,481.76 L566.78,479.49 L571.71,477.21 L576.64,474.94 L581.57,472.66 L586.51,470.39 L591.44,468.11 L596.37,465.83 L601.30,463.56 L606.23,461.28 L611.16,459.01 L616.09,456.73 L621.02,454.46 L625.95,452.18 L630.88,449.90 L635.81,447.63 L640.74,445.35 L645.67,443.08 L650.60,440.80 L655.53,438.53 L660.46,436.25 L665.39,433.97 L670.32,431.70 L675.25,429.42 L680.18,427.15"/>
<path stroke="#0000ff" d="M503.80,585.80 L508.32,583.65 L512.85,581.51 L517.37,579.36 L521.89,577.21 L526.41,575.06 L530.94,572.92 L535.46,570.77 L539.98,568.62 L544.50,566.47 L549.03,564.33 L553.55,562.18 L558.07,560.03 L562.59,557.88 L567.12,555.74 L571.64,553.59 L576.16,551.44 L580.68,549.29 L585.21,547.15 L589.73,545.00 L594.25,542.85 L598.77,540.70 L603.30,538.56 L607.82,536.41 L612.34,534.26 L616.86,532.12 L621.39,529.97 L625.91,527.82 L630.43,525.67 L634.95,523.53 L639.48,521.38 L644.00,519.23 L648.52,517.08 L653.04,514.94 L657.57,512.79 L662.09,510.64 L666.61,508.49 L671.13,506.35 L675.66,504.20 L680.18,502.05"/>
<path stroke="#0000ff" d="M533.80,630.00 L537.55,628.16 L541.31,626.32 L545.06,624.48 L548.81,622.64 L552.57,620.80 L556.32,618.96 L560.07,617.12 L563.83,615.28 L567.58,613.44 L571.33,611.60 L575.09,609.76 L578.84,607.93 L582.59,606.09 L586.35,604.25 L590.10,602.41 L593.85,600.57 L597.61,598.73 L601.36,596.89 L605.11,595.05 L608.87,593.21 L612.62,591.37 L616.37,589.53 L620.13,587.69 L623.88,585.85 L627.63,584.01 L631.39,582.17 L635.14,580.33 L638.89,578.49 L642.65,576.65 L646.40,574.81 L650.15,572.97 L653.91,571.13 L657.66,569.29 L661.41,567.45 L665.17,565.62 L668.92,563.78 L672.67,561.94 L676.43,560.10 L680.18,558.26"/>
<path stroke="#0000ff" d="M560.10,680.10 L563.18,678.32 L566.26,676.54 L569.34,674.76 L572.42,672.98 L575.49,671.20 L578.57,669.42 L581.65,667.64 L584.73,665.86 L587.81,664.08 L590.89,662.30 L593.97,660.52 L597.05,658.74 L600.13,656.96 L603.21,655.18 L606.28,653.40 L609.36,651.62 L612.44,649.84 L615.52,648.06 L618.60,646.28 L621.68,644.50 L624.76,642.72 L627.84,640.94 L630.92,639.16 L634.00,637.38 L637.07,635.60 L640.15,633.82 L643.23,632.04 L646.31,630.26 L649.39,628.48 L652.47,626.70 L655.55,624.92 L658.63,623.14 L661.71,621.36 L664.79,619.58 L667.86,617.80 L670.94,616.02 L674.02,614.24 L677.10,612.46 L680.18,610.68"/>
<path stroke="#0000ff" d="M580.50,734.80 L583.06,733.29 L585.61,731.78 L588.17,730.27 L590.72,728.76 L593.28,727.25 L595.84,725.74 L598.39,724.23 L600.95,722.72 L603.50,721.21 L606.06,719.69 L608.61,718.18 L611.17,716.67 L613.73,715.16 L616.28,713.65 L618.84,712.14 L621.39,710.63 L623.95,709.12 L626.51,707.61 L629.06,706.10 L631.62,704.59 L634.17,703.08 L636.73,701.57 L639.29,700.06 L641.84,698.55 L644.40,697.04 L646.95,695.53 L649.51,694.02 L652.07,692.50 L654.62,690.99 L657.18,689.48 L659.73,687.97 L662.29,686.46 L664.84,684.95 L667.40,683.44 L669.96,681.93 L672.51,680.42 L675.07,678.91 L677.62,677.40 L680.18,675.89"/>
<path stroke="#0000ff" d="M102.60,960.39 L105.50,960.40 L108.40,960.40 L111.31,960.40 L114.21,960.40 L117.11,960.40 L120.01,960.40 L122.92,960.40 L125.82,960.39 L128.72,960.39 L131.62,960.39 L134.53,960.38 L137.43,960.38 L140.33,960.37 L143.23,960.36 L146.14,960.35 L149.04,960.34 L151.94,960.33 L154.84,960.32 L157.75,960.31 L160.65,960.29 L163.55,960.28 L166.45,960.26 L169.36,960.24 L172.26,960.22 L175.16,960.20 L178.06,960.18 L180.97,960.16 L183.87,960.14 L186.77,960.11 L189.67,960.09 L192.57,960.06 L195.48,960.03 L198.38,960.00 L201.28,959.97 L204.18,959.94 L207.09,959.90 L209.99,959.87 L212.89,959.83 L215.79,959.79 L218.70,959.68 L221.60,959.50 L224.50,959.26 L227.40,958.97 L230.31,958.64 L233.21,958.28 L236.11,957.91 L239.01,957.54 L241.92,957.17 L244.82,956.82 L247.72,956.49 L250.62,956.15 L253.53,955.81 L256.43,955.46 L259.33,955.09 L262.23,954.71 L265.14,954.31 L268.04,953.90 L270.94,953.46 L273.84,952.99 L276.74,952.50 L279.65,951.97 L282.55,951.41 L285.45,950.81 L288.35,950.18 L291.26,949.52 L294.16,948.82 L297.06,948.09 L299.96,947.32 L302.87,946.51 L305.77,945.67 L308.67,944.76 L311.57,943.76 L314.48,942.68 L317.38,941.55 L320.28,940.36 L323.18,939.14 L326.09,937.88 L328.99,936.60 L331.89,935.31 L334.79,934.00 L337.70,932.65 L340.60,931.26 L343.50,929.82 L346.40,928.35 L349.31,926.86 L352.21,925.33 L355.11,923.78 L358.01,922.22 L360.91,920.64 L363.82,919.06 L366.72,917.47 L369.62,915.88 L372.52,914.29 L375.43,912.71 L378.33,911.13 L381.23,909.53 L384.13,907.92 L387.04,906.30 L389.94,904.66 L392.84,903.02 L395.74,901.37 L398.65,899.71 L401.55,898.05 L404.45,896.39 L407.35,894.72 L410.26,893.06 L413.16,891.39 L416.06,889.73 L418.96,888.08 L421.87,886.43 L424.77,884.80 L427.67,883.17 L430.57,881.54 L433.48,879.91 L436.38,878.27 L439.28,876.61 L442.18,874.93 L445.08,873.21 L447.99,871.46 L450.89,869.66 L453.79,867.80 L456.69,865.91 L459.60,863.99 L462.50,862.05 L465.40,860.10 L468.30,858.14 L471.21,856.19 L474.11,854.26 L477.01,852.36 L479.91,850.49 L482.82,848.66 L485.72,846.89 L488.62,845.17 L491.52,843.51 L494.43,841.88 L497.33,840.28 L500.23,838.71 L503.13,837.17 L506.04,835.63 L508.94,834.11 L511.84,832.58 L514.74,831.05 L517.64,829.50 L520.55,827.93 L523.45,826.34 L526.35,824.72 L529.25,823.06 L532.16,821.35 L535.06,819.55 L537.96,817.69 L540.86,815.82 L543.77,813.98 L546.67,812.20 L549.57,810.46 L552.47,808.73 L555.38,807.03 L558.28,805.34 L561.18,803.67 L564.08,802.02 L566.99,800.37 L569.89,798.72 L572.79,797.08 L575.69,795.45 L578.60,793.81 L581.50,792.16 L584.40,790.51 L587.30,788.85 L590.21,787.18 L593.11,785.49 L596.01,783.78 L598.91,782.05 L601.81,780.30 L604.72,778.52 L607.62,776.71 L610.52,774.85 L613.42,772.94 L616.33,770.99 L619.23,769.02 L622.13,767.02 L625.03,765.00 L627.94,762.99 L630.84,760.97 L633.74,758.97 L636.64,756.98 L639.55,755.03 L642.45,753.11 L645.35,751.23 L648.25,749.41 L651.16,747.64 L654.06,745.94 L656.96,744.27 L659.86,742.65 L662.77,741.06 L665.67,739.50 L668.57,737.98 L671.47,736.48 L674.38,735.01 L677.28,733.57 L680.18,732.15"/>
<path stroke="#ff00ff" d="M113.00,624.60 L114.65,624.60 L116.31,624.59 L117.96,624.58 L119.61,624.57 L121.26,624.55 L122.92,624.53 L124.57,624.50 L126.22,624.47 L127.87,624.44 L129.53,624.41 L131.18,624.37 L132.83,624.33 L134.49,624.28 L136.14,624.24 L137.79,624.19 L139.44,624.14 L141.10,624.09 L142.75,624.03 L144.40,623.98 L146.06,623.92 L147.71,623.86 L149.36,623.80 L151.01,623.75 L152.67,623.69 L154.32,623.62 L155.97,623.56 L157.62,623.50 L159.28,623.42 L160.93,623.35 L162.58,623.26 L164.24,623.17 L165.89,623.08 L167.54,622.98 L169.19,622.87 L170.85,622.77 L172.50,622.65 L174.15,622.53 L175.81,622.41 L177.46,622.28 L179.11,622.15 L180.76,622.02 L182.42,621.88 L184.07,621.73 L185.72,621.57 L187.37,621.39 L189.03,621.21 L190.68,621.02 L192.33,620.82 L193.99,620.61 L195.64,620.39 L197.29,620.16 L198.94,619.93 L200.60,619.69 L202.25,619.43 L203.90,619.18 L205.55,618.91 L207.21,618.63 L208.86,618.33 L210.51,618.02 L212.17,617.69 L213.82,617.34 L215.47,616.98 L217.12,616.61 L218.78,616.22 L220.43,615.82 L222.08,615.41 L223.74,614.99 L225.39,614.55 L227.04,614.11 L228.69,613.65 L230.35,613.19 L232.00,612.71 L233.65,612.21 L235.30,611.69 L236.96,611.15 L238.61,610.59 L240.26,610.00 L241.92,609.40 L243.57,608.78 L245.22,608.14 L246.87,607.48 L248.53,606.81 L250.18,606.11 L251.83,605.40 L253.48,604.68 L255.14,603.94 L256.79,603.18 L258.44,602.40 L260.10,601.59 L261.75,600.76 L263.40,599.89 L265.05,598.98 L266.71,598.04 L268.36,597.05 L270.01,596.01 L271.67,594.92 L273.32,593.77 L274.97,592.47 L276.62,591.02 L278.28,589.46 L279.93,587.84 L281.58,586.20 L283.23,584.61 L284.89,583.10 L286.54,581.67 L288.19,580.28 L289.85,578.91 L291.50,577.56 L293.15,576.23 L294.80,574.92 L296.46,573.61 L298.11,572.31 L299.76,571.02 L301.42,569.72 L303.07,568.41 L304.72,567.09 L306.37,565.75 L308.03,564.40 L309.68,563.02 L311.33,561.61 L312.98,560.17 L314.64,558.70 L316.29,557.18 L317.94,555.64 L319.60,554.08 L321.25,552.48 L322.90,550.87 L324.55,549.23 L326.21,547.58 L327.86,545.91 L329.51,544.23 L331.16,542.54 L332.82,540.84 L334.47,539.13 L336.12,537.42 L337.78,535.71 L339.43,534.00 L341.08,532.30 L342.73,530.58 L344.39,528.85 L346.04,527.11 L347.69,525.35 L349.35,523.59 L351.00,521.82 L352.65,520.04 L354.30,518.26 L355.96,516.47 L357.61,514.68 L359.26,512.89 L360.91,511.10 L362.57,509.31 L364.22,507.52 L365.87,505.74 L367.53,503.95 L369.18,502.18 L370.83,500.41 L372.48,498.61 L374.14,496.80 L375.79,494.97 L377.44,493.14 L379.09,491.30 L380.75,489.48 L382.40,487.67 L384.05,485.88 L385.71,484.12 L387.36,482.40 L389.01,480.71 L390.66,479.08 L392.32,477.51 L393.97,476.01 L395.62,474.56 L397.28,473.17 L398.93,471.79 L400.58,470.43 L402.23,469.06 L403.89,467.66 L405.54,466.22 L407.19,464.74 L408.84,463.25 L410.50,461.74 L412.15,460.23 L413.80,458.70 L415.46,457.15 L417.11,455.59 L418.76,454.00 L420.41,452.39 L422.07,450.75 L423.72,449.08 L425.37,447.39 L427.03,445.67 L428.68,443.92 L430.33,442.14 L431.98,440.34 L433.64,438.51 L435.29,436.66 L436.94,434.78 L438.59,432.87 L440.25,430.95 L441.90,429.00"/>
<path stroke="#ff00ff" d="M113.00,722.90 L114.71,722.90 L116.43,722.90 L118.14,722.89 L119.85,722.89 L121.57,722.88 L123.28,722.87 L124.99,722.85 L126.70,722.83 L128.42,722.81 L130.13,722.79 L131.84,722.77 L133.56,722.74 L135.27,722.72 L136.98,722.69 L138.70,722.66 L140.41,722.62 L142.12,722.59 L143.84,722.55 L145.55,722.52 L147.26,722.48 L148.97,722.44 L150.69,722.40 L152.40,722.36 L154.11,722.32 L155.83,722.28 L157.54,722.23 L159.25,722.18 L160.97,722.12 L162.68,722.06 L164.39,721.99 L166.11,721.91 L167.82,721.83 L169.53,721.75 L171.24,721.66 L172.96,721.56 L174.67,721.46 L176.38,721.35 L178.10,721.24 L179.81,721.12 L181.52,721.00 L183.24,720.88 L184.95,720.75 L186.66,720.61 L188.37,720.47 L190.09,720.33 L191.80,720.18 L193.51,720.03 L195.23,719.87 L196.94,719.71 L198.65,719.55 L200.37,719.38 L202.08,719.20 L203.79,719.03 L205.51,718.85 L207.22,718.65 L208.93,718.43 L210.64,718.18 L212.36,717.92 L214.07,717.64 L215.78,717.34 L217.50,717.02 L219.21,716.68 L220.92,716.33 L222.64,715.96 L224.35,715.58 L226.06,715.18 L227.78,714.77 L229.49,714.34 L231.20,713.91 L232.91,713.46 L234.63,713.00 L236.34,712.52 L238.05,711.99 L239.77,711.41 L241.48,710.80 L243.19,710.14 L244.91,709.46 L246.62,708.75 L248.33,708.01 L250.05,707.25 L251.76,706.48 L253.47,705.70 L255.18,704.92 L256.90,704.11 L258.61,703.27 L260.32,702.40 L262.04,701.50 L263.75,700.58 L265.46,699.63 L267.18,698.66 L268.89,697.67 L270.60,696.66 L272.32,695.64 L274.03,694.60 L275.74,693.54 L277.45,692.45 L279.17,691.34 L280.88,690.19 L282.59,689.02 L284.31,687.83 L286.02,686.61 L287.73,685.38 L289.45,684.13 L291.16,682.86 L292.87,681.59 L294.58,680.31 L296.30,679.02 L298.01,677.73 L299.72,676.41 L301.44,675.09 L303.15,673.75 L304.86,672.38 L306.58,671.00 L308.29,669.60 L310.00,668.16 L311.72,666.70 L313.43,665.21 L315.14,663.69 L316.85,662.08 L318.57,660.37 L320.28,658.58 L321.99,656.75 L323.71,654.89 L325.42,653.04 L327.13,651.21 L328.85,649.43 L330.56,647.73 L332.27,646.13 L333.99,644.65 L335.70,643.32 L337.41,642.12 L339.12,641.03 L340.84,640.00 L342.55,639.01 L344.26,638.03 L345.98,637.03 L347.69,635.97 L349.40,634.84 L351.12,633.60 L352.83,632.23 L354.54,630.75 L356.26,629.19 L357.97,627.53 L359.68,625.81 L361.39,624.01 L363.11,622.14 L364.82,620.23 L366.53,618.27 L368.25,616.27 L369.96,614.24 L371.67,612.20 L373.39,610.13 L375.10,608.07 L376.81,606.00 L378.53,603.95 L380.24,601.91 L381.95,599.90 L383.66,597.93 L385.38,595.99 L387.09,594.11 L388.80,592.29 L390.52,590.51 L392.23,588.73 L393.94,586.97 L395.66,585.23 L397.37,583.49 L399.08,581.76 L400.79,580.04 L402.51,578.33 L404.22,576.63 L405.93,574.93 L407.65,573.24 L409.36,571.55 L411.07,569.86 L412.79,568.17 L414.50,566.49 L416.21,564.80 L417.93,563.11 L419.64,561.42 L421.35,559.73 L423.06,558.03 L424.78,556.32 L426.49,554.61 L428.20,552.88 L429.92,551.13 L431.63,549.38 L433.34,547.64 L435.06,545.91 L436.77,544.21 L438.48,542.55 L440.20,540.93 L441.91,539.34 L443.62,537.78 L445.33,536.24 L447.05,534.72 L448.76,533.23 L450.47,531.76 L452.19,530.32 L453.90,528.90"/>
<path stroke="#ff00ff" d="M113.00,773.42 L114.83,773.40 L116.67,773.38 L118.50,773.37 L120.33,773.35 L122.17,773.32 L124.00,773.30 L125.84,773.28 L127.67,773.26 L129.50,773.23 L131.34,773.21 L133.17,773.18 L135.00,773.15 L136.84,773.12 L138.67,773.09 L140.51,773.06 L142.34,773.03 L144.17,773.00 L146.01,772.97 L147.84,772.93 L149.67,772.90 L151.51,772.87 L153.34,772.83 L155.17,772.80 L157.01,772.76 L158.84,772.73 L160.68,772.69 L162.51,772.65 L164.34,772.62 L166.18,772.58 L168.01,772.54 L169.84,772.50 L171.68,772.46 L173.51,772.42 L175.34,772.37 L177.18,772.33 L179.01,772.28 L180.85,772.23 L182.68,772.18 L184.51,772.13 L186.35,772.08 L188.18,772.02 L190.01,771.97 L191.85,771.91 L193.68,771.84 L195.52,771.78 L197.35,771.71 L199.18,771.64 L201.02,771.57 L202.85,771.49 L204.68,771.41 L206.52,771.33 L208.35,771.23 L210.18,771.13 L212.02,771.01 L213.85,770.89 L215.69,770.75 L217.52,770.61 L219.35,770.46 L221.19,770.29 L223.02,770.12 L224.85,769.94 L226.69,769.75 L228.52,769.56 L230.35,769.35 L232.19,769.14 L234.02,768.92 L235.86,768.69 L237.69,768.42 L239.52,768.12 L241.36,767.78 L243.19,767.42 L245.02,767.04 L246.86,766.64 L248.69,766.23 L250.53,765.81 L252.36,765.40 L254.19,764.98 L256.03,764.57 L257.86,764.16 L259.69,763.75 L261.53,763.33 L263.36,762.91 L265.19,762.47 L267.03,762.01 L268.86,761.54 L270.70,761.05 L272.53,760.53 L274.36,759.99 L276.20,759.42 L278.03,758.82 L279.86,758.18 L281.70,757.51 L283.53,756.81 L285.36,756.08 L287.20,755.33 L289.03,754.54 L290.87,753.73 L292.70,752.89 L294.53,752.02 L296.37,751.13 L298.20,750.17 L300.03,749.16 L301.87,748.10 L303.70,747.00 L305.54,745.87 L307.37,744.71 L309.20,743.53 L311.04,742.34 L312.87,741.15 L314.70,739.96 L316.54,738.78 L318.37,737.58 L320.20,736.38 L322.04,735.16 L323.87,733.92 L325.71,732.66 L327.54,731.37 L329.37,730.04 L331.21,728.69 L333.04,727.29 L334.87,725.84 L336.71,724.34 L338.54,722.76 L340.37,721.13 L342.21,719.45 L344.04,717.72 L345.88,715.95 L347.71,714.15 L349.54,712.31 L351.38,710.46 L353.21,708.59 L355.04,706.71 L356.88,704.84 L358.71,702.96 L360.55,701.10 L362.38,699.25 L364.21,697.43 L366.05,695.63 L367.88,693.88 L369.71,692.16 L371.55,690.48 L373.38,688.81 L375.21,687.15 L377.05,685.50 L378.88,683.85 L380.72,682.21 L382.55,680.58 L384.38,678.96 L386.22,677.35 L388.05,675.74 L389.88,674.14 L391.72,672.55 L393.55,670.96 L395.38,669.38 L397.22,667.81 L399.05,666.24 L400.89,664.68 L402.72,663.12 L404.55,661.57 L406.39,660.03 L408.22,658.49 L410.05,656.95 L411.89,655.44 L413.72,653.95 L415.56,652.49 L417.39,651.05 L419.22,649.62 L421.06,648.21 L422.89,646.81 L424.72,645.42 L426.56,644.02 L428.39,642.63 L430.22,641.24 L432.06,639.83 L433.89,638.42 L435.73,636.98 L437.56,635.53 L439.39,634.06 L441.23,632.56 L443.06,631.03 L444.89,629.47 L446.73,627.87 L448.56,626.23 L450.39,624.54 L452.23,622.81 L454.06,621.04 L455.90,619.23 L457.73,617.38 L459.56,615.50 L461.40,613.58 L463.23,611.62 L465.06,609.64 L466.90,607.62 L468.73,605.58 L470.57,603.51 L472.40,601.42 L474.23,599.30 L476.07,597.16 L477.90,595.00"/>
<path stroke="#ff00ff" d="M113.00,817.00 L114.87,817.00 L116.74,817.00 L118.61,817.00 L120.48,817.00 L122.34,817.00 L124.21,816.99 L126.08,816.99 L127.95,816.99 L129.82,816.99 L131.69,816.98 L133.56,816.98 L135.43,816.97 L137.29,816.97 L139.16,816.96 L141.03,816.96 L142.90,816.95 L144.77,816.94 L146.64,816.94 L148.51,816.93 L150.38,816.92 L152.25,816.91 L154.11,816.90 L155.98,816.89 L157.85,816.88 L159.72,816.87 L161.59,816.86 L163.46,816.85 L165.33,816.84 L167.20,816.83 L169.07,816.81 L170.93,816.80 L172.80,816.79 L174.67,816.77 L176.54,816.76 L178.41,816.75 L180.28,816.73 L182.15,816.72 L184.02,816.70 L185.88,816.68 L187.75,816.67 L189.62,816.65 L191.49,816.63 L193.36,816.62 L195.23,816.60 L197.10,816.58 L198.97,816.55 L200.84,816.51 L202.70,816.47 L204.57,816.42 L206.44,816.37 L208.31,816.31 L210.18,816.24 L212.05,816.17 L213.92,816.10 L215.79,816.02 L217.66,815.94 L219.52,815.85 L221.39,815.76 L223.26,815.66 L225.13,815.57 L227.00,815.46 L228.87,815.36 L230.74,815.25 L232.61,815.14 L234.47,815.03 L236.34,814.91 L238.21,814.78 L240.08,814.64 L241.95,814.48 L243.82,814.32 L245.69,814.13 L247.56,813.94 L249.43,813.74 L251.29,813.52 L253.16,813.30 L255.03,813.06 L256.90,812.81 L258.77,812.56 L260.64,812.29 L262.51,812.02 L264.38,811.74 L266.25,811.45 L268.11,811.15 L269.98,810.85 L271.85,810.54 L273.72,810.22 L275.59,809.90 L277.46,809.55 L279.33,809.19 L281.20,808.80 L283.06,808.38 L284.93,807.95 L286.80,807.49 L288.67,807.02 L290.54,806.52 L292.41,806.00 L294.28,805.46 L296.15,804.90 L298.02,804.32 L299.88,803.73 L301.75,803.11 L303.62,802.48 L305.49,801.83 L307.36,801.17 L309.23,800.49 L311.10,799.79 L312.97,799.06 L314.84,798.30 L316.70,797.50 L318.57,796.65 L320.44,795.75 L322.31,794.79 L324.18,793.76 L326.05,792.66 L327.92,791.49 L329.79,790.23 L331.65,788.88 L333.52,787.34 L335.39,785.06 L337.26,782.62 L339.13,780.67 L341.00,778.87 L342.87,777.14 L344.74,775.47 L346.61,773.86 L348.47,772.30 L350.34,770.79 L352.21,769.31 L354.08,767.86 L355.95,766.44 L357.82,765.04 L359.69,763.65 L361.56,762.27 L363.43,760.88 L365.29,759.49 L367.16,758.08 L369.03,756.65 L370.90,755.20 L372.77,753.76 L374.64,752.33 L376.51,750.92 L378.38,749.51 L380.24,748.12 L382.11,746.73 L383.98,745.35 L385.85,743.98 L387.72,742.61 L389.59,741.24 L391.46,739.87 L393.33,738.49 L395.20,737.12 L397.06,735.73 L398.93,734.35 L400.80,732.95 L402.67,731.54 L404.54,730.13 L406.41,728.69 L408.28,727.25 L410.15,725.78 L412.02,724.32 L413.88,722.85 L415.75,721.38 L417.62,719.90 L419.49,718.43 L421.36,716.95 L423.23,715.46 L425.10,713.97 L426.97,712.47 L428.83,710.96 L430.70,709.44 L432.57,707.91 L434.44,706.36 L436.31,704.80 L438.18,703.22 L440.05,701.63 L441.92,700.02 L443.79,698.39 L445.65,696.74 L447.52,695.06 L449.39,693.37 L451.26,691.64 L453.13,689.90 L455.00,688.13 L456.87,686.34 L458.74,684.52 L460.61,682.69 L462.47,680.83 L464.34,678.95 L466.21,677.05 L468.08,675.13 L469.95,673.19 L471.82,671.22 L473.69,669.25 L475.56,667.25 L477.42,665.23 L479.29,663.20 L481.16,661.15 L483.03,659.08 L484.90,657.00"/>
<path stroke="#ff00ff" d="M113.00,880.90 L115.08,880.90 L117.17,880.90 L119.25,880.90 L121.34,880.90 L123.42,880.89 L125.51,880.89 L127.59,880.88 L129.68,880.87 L131.76,880.87 L133.84,880.86 L135.93,880.85 L138.01,880.84 L140.10,880.82 L142.18,880.81 L144.27,880.80 L146.35,880.78 L148.44,880.76 L150.52,880.75 L152.60,880.73 L154.69,880.71 L156.77,880.69 L158.86,880.66 L160.94,880.64 L163.03,880.61 L165.11,880.59 L167.19,880.56 L169.28,880.53 L171.36,880.50 L173.45,880.47 L175.53,880.43 L177.62,880.40 L179.70,880.37 L181.79,880.33 L183.87,880.29 L185.95,880.25 L188.04,880.21 L190.12,880.17 L192.21,880.12 L194.29,880.08 L196.38,880.03 L198.46,879.98 L200.55,879.93 L202.63,879.88 L204.71,879.83 L206.80,879.78 L208.88,879.72 L210.97,879.67 L213.05,879.61 L215.14,879.55 L217.22,879.49 L219.31,879.42 L221.39,879.36 L223.47,879.29 L225.56,879.23 L227.64,879.16 L229.73,879.09 L231.81,879.01 L233.90,878.94 L235.98,878.86 L238.07,878.72 L240.15,878.51 L242.23,878.26 L244.32,877.95 L246.40,877.61 L248.49,877.24 L250.57,876.83 L252.66,876.41 L254.74,875.98 L256.83,875.54 L258.91,875.10 L260.99,874.67 L263.08,874.26 L265.16,873.87 L267.25,873.50 L269.33,873.13 L271.42,872.77 L273.50,872.41 L275.58,872.04 L277.67,871.67 L279.75,871.29 L281.84,870.90 L283.92,870.49 L286.01,870.06 L288.09,869.61 L290.18,869.13 L292.26,868.62 L294.34,868.08 L296.43,867.48 L298.51,866.80 L300.60,866.03 L302.68,865.20 L304.77,864.32 L306.85,863.41 L308.94,862.48 L311.02,861.54 L313.10,860.63 L315.19,859.74 L317.27,858.89 L319.36,858.07 L321.44,857.25 L323.53,856.41 L325.61,855.51 L327.70,854.54 L329.78,853.47 L331.86,852.22 L333.95,850.63 L336.03,848.93 L338.12,847.38 L340.20,846.00 L342.29,844.68 L344.37,843.41 L346.46,842.18 L348.54,840.98 L350.62,839.80 L352.71,838.64 L354.79,837.49 L356.88,836.33 L358.96,835.15 L361.05,833.95 L363.13,832.72 L365.22,831.45 L367.30,830.12 L369.38,828.74 L371.47,827.30 L373.55,825.81 L375.64,824.28 L377.72,822.72 L379.81,821.12 L381.89,819.50 L383.97,817.86 L386.06,816.20 L388.14,814.53 L390.23,812.85 L392.31,811.17 L394.40,809.50 L396.48,807.83 L398.57,806.15 L400.65,804.46 L402.73,802.76 L404.82,801.05 L406.90,799.32 L408.99,797.58 L411.07,795.82 L413.16,794.04 L415.24,792.24 L417.33,790.42 L419.41,788.56 L421.49,786.66 L423.58,784.71 L425.66,782.72 L427.75,780.70 L429.83,778.67 L431.92,776.62 L434.00,774.57 L436.09,772.53 L438.17,770.51 L440.25,768.50 L442.34,766.53 L444.42,764.61 L446.51,762.73 L448.59,760.91 L450.68,759.15 L452.76,757.45 L454.85,755.79 L456.93,754.16 L459.01,752.57 L461.10,751.00 L463.18,749.46 L465.27,747.93 L467.35,746.43 L469.44,744.93 L471.52,743.44 L473.61,741.95 L475.69,740.46 L477.77,738.96 L479.86,737.46 L481.94,735.93 L484.03,734.39 L486.11,732.82 L488.20,731.23 L490.28,729.60 L492.36,727.95 L494.45,726.30 L496.53,724.63 L498.62,722.96 L500.70,721.27 L502.79,719.57 L504.87,717.87 L506.96,716.15 L509.04,714.43 L511.12,712.70 L513.21,710.95 L515.29,709.20 L517.38,707.44 L519.46,705.67 L521.55,703.89 L523.63,702.10 L525.72,700.30 L527.80,698.50"/>
<path stroke="#ff00ff" d="M113.00,928.50 L115.15,928.50 L117.29,928.50 L119.44,928.50 L121.58,928.50 L123.73,928.49 L125.87,928.49 L128.02,928.48 L130.17,928.48 L132.31,928.47 L134.46,928.46 L136.60,928.45 L138.75,928.44 L140.89,928.43 L143.04,928.42 L145.19,928.41 L147.33,928.39 L149.48,928.38 L151.62,928.36 L153.77,928.34 L155.91,928.32 L158.06,928.31 L160.21,928.29 L162.35,928.26 L164.50,928.24 L166.64,928.22 L168.79,928.19 L170.93,928.17 L173.08,928.14 L175.23,928.11 L177.37,928.09 L179.52,928.06 L181.66,928.03 L183.81,927.99 L185.95,927.96 L188.10,927.93 L190.25,927.89 L192.39,927.86 L194.54,927.82 L196.68,927.78 L198.83,927.74 L200.97,927.70 L203.12,927.66 L205.27,927.61 L207.41,927.57 L209.56,927.53 L211.70,927.48 L213.85,927.43 L215.99,927.38 L218.14,927.33 L220.29,927.28 L222.43,927.23 L224.58,927.18 L226.72,927.12 L228.87,927.07 L231.02,927.01 L233.16,926.95 L235.31,926.89 L237.45,926.81 L239.60,926.69 L241.74,926.54 L243.89,926.36 L246.04,926.15 L248.18,925.92 L250.33,925.66 L252.47,925.39 L254.62,925.09 L256.76,924.78 L258.91,924.46 L261.06,924.13 L263.20,923.79 L265.35,923.45 L267.49,923.10 L269.64,922.75 L271.78,922.41 L273.93,922.07 L276.08,921.73 L278.22,921.39 L280.37,921.05 L282.51,920.69 L284.66,920.32 L286.80,919.94 L288.95,919.55 L291.10,919.13 L293.24,918.70 L295.39,918.25 L297.53,917.77 L299.68,917.27 L301.82,916.74 L303.97,916.18 L306.12,915.58 L308.26,914.90 L310.41,914.15 L312.55,913.33 L314.70,912.45 L316.84,911.52 L318.99,910.55 L321.14,909.55 L323.28,908.52 L325.43,907.49 L327.57,906.45 L329.72,905.42 L331.86,904.39 L334.01,903.31 L336.16,902.19 L338.30,901.03 L340.45,899.86 L342.59,898.68 L344.74,897.50 L346.88,896.31 L349.03,895.11 L351.18,893.90 L353.32,892.69 L355.47,891.47 L357.61,890.24 L359.76,888.99 L361.90,887.74 L364.05,886.49 L366.20,885.22 L368.34,883.94 L370.49,882.65 L372.63,881.34 L374.78,880.03 L376.92,878.71 L379.07,877.37 L381.22,876.02 L383.36,874.66 L385.51,873.29 L387.65,871.90 L389.80,870.50 L391.94,869.08 L394.09,867.65 L396.24,866.21 L398.38,864.74 L400.53,863.23 L402.67,861.69 L404.82,860.11 L406.96,858.50 L409.11,856.87 L411.26,855.21 L413.40,853.54 L415.55,851.84 L417.69,850.14 L419.84,848.42 L421.98,846.70 L424.13,844.97 L426.28,843.24 L428.42,841.52 L430.57,839.80 L432.71,838.09 L434.86,836.39 L437.01,834.71 L439.15,833.04 L441.30,831.40 L443.44,829.79 L445.59,828.20 L447.73,826.64 L449.88,825.12 L452.03,823.62 L454.17,822.14 L456.32,820.68 L458.46,819.24 L460.61,817.81 L462.75,816.39 L464.90,814.99 L467.05,813.59 L469.19,812.19 L471.34,810.79 L473.48,809.39 L475.63,807.98 L477.77,806.57 L479.92,805.14 L482.07,803.70 L484.21,802.25 L486.36,800.77 L488.50,799.27 L490.65,797.75 L492.79,796.20 L494.94,794.62 L497.09,793.01 L499.23,791.37 L501.38,789.72 L503.52,788.05 L505.67,786.35 L507.81,784.64 L509.96,782.92 L512.11,781.17 L514.25,779.41 L516.40,777.63 L518.54,775.83 L520.69,774.02 L522.83,772.19 L524.98,770.34 L527.13,768.48 L529.27,766.60 L531.42,764.71 L533.56,762.80 L535.71,760.88 L537.85,758.95 L540.00,757.00"/>
</g></g>
<path d="M136.28,994.40 V988.80 M355.85,994.40 V988.80 M575.42,994.40 V988.80 M115.00,994.40 V991.20 M126.23,994.40 V991.20 M202.38,994.40 V991.20 M241.04,994.40 V991.20 M268.47,994.40 V991.20 M289.75,994.40 V991.20 M307.14,994.40 V991.20 M321.84,994.40 V991.20 M334.57,994.40 V991.20 M345.80,994.40 V991.20 M421.95,994.40 V991.20 M460.61,994.40 V991.20 M488.04,994.40 V991.20 M509.32,994.40 V991.20 M526.71,994.40 V991.20 M541.41,994.40 V991.20 M554.14,994.40 V991.20 M565.37,994.40 V991.20 M641.52,994.40 V991.20 M680.18,994.40 V991.20 M707.61,994.40 V991.20 M728.89,994.40 V991.20 M115.00,853.80 H120.60 M115.00,500.30 H120.60 M115.00,146.80 H120.60 M115.00,994.47 H118.20 M115.00,960.21 H118.20 M115.00,932.22 H118.20 M115.00,908.56 H118.20 M115.00,888.06 H118.20 M115.00,869.98 H118.20 M115.00,747.39 H118.20 M115.00,685.14 H118.20 M115.00,640.97 H118.20 M115.00,606.71 H118.20 M115.00,578.72 H118.20 M115.00,555.06 H118.20 M115.00,534.56 H118.20 M115.00,516.48 H118.20 M115.00,393.89 H118.20 M115.00,331.64 H118.20 M115.00,287.47 H118.20 M115.00,253.21 H118.20 M115.00,225.22 H118.20 M115.00,201.56 H118.20 M115.00,181.06 H118.20 M115.00,162.98 H118.20 M115.00,40.39 H118.20" stroke="#000" stroke-width="1.3" fill="none"/>
<rect x="115.0" y="25.6" width="614.0" height="968.8" fill="none" stroke="#000" stroke-width="1.6"/>
<rect x="133.5" y="44.5" width="276.6" height="472.9" rx="6" ry="6" fill="#ffffff" fill-opacity="0.8" stroke="#cccccc" stroke-opacity="0.8" stroke-width="1.6"/>
<circle cx="185.2" cy="75.2" r="7.2" fill="none" stroke="#808000" stroke-width="1.60"/>
<text x="252.20" y="87.71" font-size="37.50" textLength="27.11" lengthAdjust="spacingAndGlyphs">−</text>
<text x="279.17" y="85.10" font-size="37.50" textLength="52.46" lengthAdjust="spacingAndGlyphs">550</text>
<text x="342.38" y="85.10" font-size="37.50" textLength="53.85" lengthAdjust="spacingAndGlyphs">mV</text>
<circle cx="185.2" cy="126.7" r="7.2" fill="none" stroke="#17becf" stroke-width="1.60"/>
<text x="252.20" y="139.18" font-size="37.50" textLength="27.11" lengthAdjust="spacingAndGlyphs">−</text>
<text x="279.17" y="136.57" font-size="37.50" textLength="52.46" lengthAdjust="spacingAndGlyphs">570</text>
<text x="342.38" y="136.57" font-size="37.50" textLength="53.85" lengthAdjust="spacingAndGlyphs">mV</text>
<circle cx="185.2" cy="178.1" r="7.2" fill="none" stroke="#daa520" stroke-width="1.60"/>
<text x="252.20" y="190.65" font-size="37.50" textLength="27.11" lengthAdjust="spacingAndGlyphs">−</text>
<text x="279.17" y="188.04" font-size="37.50" textLength="52.46" lengthAdjust="spacingAndGlyphs">590</text>
<text x="342.38" y="188.04" font-size="37.50" textLength="53.85" lengthAdjust="spacingAndGlyphs">mV</text>
<circle cx="185.2" cy="229.6" r="7.2" fill="none" stroke="#8a2be2" stroke-width="1.60"/>
<text x="252.20" y="242.12" font-size="37.50" textLength="27.11" lengthAdjust="spacingAndGlyphs">−</text>
<text x="279.75" y="239.51" font-size="37.50" textLength="51.87" lengthAdjust="spacingAndGlyphs">610</text>
<text x="342.38" y="239.51" font-size="37.50" textLength="53.85" lengthAdjust="spacingAndGlyphs">mV</text>
<circle cx="185.2" cy="281.1" r="7.2" fill="none" stroke="#008000" stroke-width="1.60"/>
<text x="252.20" y="293.59" font-size="37.50" textLength="27.11" lengthAdjust="spacingAndGlyphs">−</text>
<text x="279.75" y="290.98" font-size="37.50" textLength="51.87" lengthAdjust="spacingAndGlyphs">630</text>
<text x="342.38" y="290.98" font-size="37.50" textLength="53.85" lengthAdjust="spacingAndGlyphs">mV</text>
<circle cx="185.2" cy="332.6" r="7.2" fill="none" stroke="#5f9ea0" stroke-width="1.60"/>
<text x="252.20" y="345.06" font-size="37.50" textLength="27.11" lengthAdjust="spacingAndGlyphs">−</text>
<text x="279.75" y="342.45" font-size="37.50" textLength="51.87" lengthAdjust="spacingAndGlyphs">650</text>
<text x="342.38" y="342.45" font-size="37.50" textLength="53.85" lengthAdjust="spacingAndGlyphs">mV</text>
<circle cx="185.2" cy="384.0" r="7.2" fill="none" stroke="#800080" stroke-width="1.60"/>
<text x="252.20" y="396.53" font-size="37.50" textLength="27.11" lengthAdjust="spacingAndGlyphs">−</text>
<text x="279.75" y="393.92" font-size="37.50" textLength="51.87" lengthAdjust="spacingAndGlyphs">670</text>
<text x="342.38" y="393.92" font-size="37.50" textLength="53.85" lengthAdjust="spacingAndGlyphs">mV</text>
<path d="M148,431.8 H217.3" stroke="#0000ff" stroke-width="4.8" stroke-dasharray="18.0,7.6" fill="none"/>
<path d="M148,483.4 H217.3" stroke="#ff00ff" stroke-width="4.8" stroke-dasharray="18.0,7.6" fill="none"/>
<text x="251.58" y="445.45" font-size="35.00" font-style="italic" textLength="21.32" lengthAdjust="spacingAndGlyphs">α</text>
<text x="274.68" y="450.90" font-size="26.25" textLength="12.07" lengthAdjust="spacingAndGlyphs">1</text>
<text x="251.58" y="496.30" font-size="35.00" font-style="italic" textLength="21.32" lengthAdjust="spacingAndGlyphs">α</text>
<text x="274.29" y="501.75" font-size="26.25" textLength="13.75" lengthAdjust="spacingAndGlyphs">2</text>
<text x="62.88" y="159.70" font-size="37.20" textLength="34.32" lengthAdjust="spacingAndGlyphs">10</text>
<text x="96.70" y="146.70" font-size="26.25" textLength="12.50" lengthAdjust="spacingAndGlyphs">1</text>
<text x="62.99" y="513.10" font-size="37.20" textLength="34.21" lengthAdjust="spacingAndGlyphs">10</text>
<text x="96.60" y="500.30" font-size="26.25" textLength="13.21" lengthAdjust="spacingAndGlyphs">0</text>
<text x="43.00" y="866.70" font-size="37.20" textLength="34.10" lengthAdjust="spacingAndGlyphs">10</text>
<text x="77.54" y="855.59" font-size="26.25" textLength="18.76" lengthAdjust="spacingAndGlyphs">−</text>
<text x="96.88" y="853.80" font-size="26.25" textLength="12.07" lengthAdjust="spacingAndGlyphs">1</text>
<text x="112.68" y="1025.70" font-size="37.20" textLength="34.10" lengthAdjust="spacingAndGlyphs">10</text>
<text x="146.48" y="1012.50" font-size="26.25" textLength="12.50" lengthAdjust="spacingAndGlyphs">1</text>
<text x="332.25" y="1025.70" font-size="37.20" textLength="34.10" lengthAdjust="spacingAndGlyphs">10</text>
<text x="366.28" y="1012.50" font-size="26.25" textLength="13.25" lengthAdjust="spacingAndGlyphs">2</text>
<text x="551.82" y="1025.70" font-size="37.20" textLength="34.10" lengthAdjust="spacingAndGlyphs">10</text>
<text x="585.78" y="1012.50" font-size="26.25" textLength="12.86" lengthAdjust="spacingAndGlyphs">3</text>
<text x="361.20" y="1066.80" font-size="36.50" font-style="italic" textLength="24.47" lengthAdjust="spacingAndGlyphs">T</text>
<text x="401.52" y="1066.80" font-size="36.50" textLength="78.00" lengthAdjust="spacingAndGlyphs">(mK)</text>
<text transform="translate(27.60,561.40) rotate(-90)" x="-2.28" y="0" font-size="36.50" font-style="italic" textLength="29.38" lengthAdjust="spacingAndGlyphs">G</text>
<text transform="translate(27.60,520.20) rotate(-90)" x="-1.44" y="0" font-size="36.50" textLength="10.93" lengthAdjust="spacingAndGlyphs">(</text>
<text transform="translate(27.60,510.10) rotate(-90)" x="-0.00" y="0" font-size="36.50" font-style="italic" textLength="20.27" lengthAdjust="spacingAndGlyphs">μ</text>
<text transform="translate(27.60,487.30) rotate(-90)" x="-2.41" y="0" font-size="36.50">S</text>
<text transform="translate(27.60,469.50) rotate(-90)" x="-1.10" y="0" font-size="36.50" textLength="11.49" lengthAdjust="spacingAndGlyphs">)</text>
<text x="23.69" y="25.80" font-size="39.50" font-weight="bold" textLength="29.65" lengthAdjust="spacingAndGlyphs">A</text>
<g clip-path="url(#clipB)" fill="none">
<path d="M889.83,50.00 V125.90" stroke="#2ca02c" stroke-width="2.90"/><path d="M880.23,50.00 h19.20 M880.23,125.90 h19.20" stroke="#2ca02c" stroke-width="1.80"/><rect x="883.58" y="81.75" width="12.50" height="12.50" fill="#2ca02c"/>
<path d="M981.30,50.80 V125.10" stroke="#2ca02c" stroke-width="2.90"/><path d="M971.70,50.80 h19.20 M971.70,125.10 h19.20" stroke="#2ca02c" stroke-width="1.80"/><rect x="975.05" y="81.75" width="12.50" height="12.50" fill="#2ca02c"/>
<path d="M1072.77,69.50 V141.80" stroke="#2ca02c" stroke-width="2.90"/><path d="M1063.17,69.50 h19.20 M1063.17,141.80 h19.20" stroke="#2ca02c" stroke-width="1.80"/><rect x="1066.52" y="99.55" width="12.50" height="12.50" fill="#2ca02c"/>
<path d="M1164.24,90.60 V158.90" stroke="#2ca02c" stroke-width="2.90"/><path d="M1154.64,90.60 h19.20 M1154.64,158.90 h19.20" stroke="#2ca02c" stroke-width="1.80"/><rect x="1157.99" y="119.25" width="12.50" height="12.50" fill="#2ca02c"/>
<path d="M1255.71,143.00 V206.70" stroke="#2ca02c" stroke-width="2.90"/><path d="M1246.11,143.00 h19.20 M1246.11,206.70 h19.20" stroke="#2ca02c" stroke-width="1.80"/><rect x="1249.46" y="168.45" width="12.50" height="12.50" fill="#2ca02c"/>
<path d="M1347.18,120.30 V185.10" stroke="#2ca02c" stroke-width="2.90"/><path d="M1337.58,120.30 h19.20 M1337.58,185.10 h19.20" stroke="#2ca02c" stroke-width="1.80"/><rect x="1340.93" y="146.55" width="12.50" height="12.50" fill="#2ca02c"/>
<path d="M1438.65,138.70 V201.50" stroke="#2ca02c" stroke-width="2.90"/><path d="M1429.05,138.70 h19.20 M1429.05,201.50 h19.20" stroke="#2ca02c" stroke-width="1.80"/><rect x="1432.40" y="163.85" width="12.50" height="12.50" fill="#2ca02c"/>
<path d="M889.83,447.40 V523.10" stroke="#000000" stroke-width="2.90"/><path d="M880.23,447.40 h19.20 M880.23,523.10 h19.20" stroke="#000000" stroke-width="1.80"/><rect x="883.58" y="478.65" width="12.50" height="12.50" fill="#000000"/>
<path d="M981.30,447.80 V521.90" stroke="#000000" stroke-width="2.90"/><path d="M971.70,447.80 h19.20 M971.70,521.90 h19.20" stroke="#000000" stroke-width="1.80"/><rect x="975.05" y="478.65" width="12.50" height="12.50" fill="#000000"/>
<path d="M1072.77,469.20 V539.60" stroke="#000000" stroke-width="2.90"/><path d="M1063.17,469.20 h19.20 M1063.17,539.60 h19.20" stroke="#000000" stroke-width="1.80"/><rect x="1066.52" y="498.75" width="12.50" height="12.50" fill="#000000"/>
<path d="M1164.24,474.80 V542.40" stroke="#000000" stroke-width="2.90"/><path d="M1154.64,474.80 h19.20 M1154.64,542.40 h19.20" stroke="#000000" stroke-width="1.80"/><rect x="1157.99" y="502.75" width="12.50" height="12.50" fill="#000000"/>
<path d="M1255.71,484.10 V550.50" stroke="#000000" stroke-width="2.90"/><path d="M1246.11,484.10 h19.20 M1246.11,550.50 h19.20" stroke="#000000" stroke-width="1.80"/><rect x="1249.46" y="511.65" width="12.50" height="12.50" fill="#000000"/>
<path d="M1347.18,489.30 V554.10" stroke="#000000" stroke-width="2.90"/><path d="M1337.58,489.30 h19.20 M1337.58,554.10 h19.20" stroke="#000000" stroke-width="1.80"/><rect x="1340.93" y="515.65" width="12.50" height="12.50" fill="#000000"/>
<path d="M1438.65,494.30 V557.60" stroke="#000000" stroke-width="2.90"/><path d="M1429.05,494.30 h19.20 M1429.05,557.60 h19.20" stroke="#000000" stroke-width="1.80"/><rect x="1432.40" y="519.85" width="12.50" height="12.50" fill="#000000"/>
<path d="M889.83,251.90 V276.60" stroke="#0000ff" stroke-width="2.90"/><path d="M880.23,251.90 h19.20 M880.23,276.60 h19.20" stroke="#0000ff" stroke-width="1.80"/><rect x="883.58" y="258.35" width="12.50" height="12.50" fill="#0000ff"/>
<path d="M981.30,255.30 V278.80" stroke="#0000ff" stroke-width="2.90"/><path d="M971.70,255.30 h19.20 M971.70,278.80 h19.20" stroke="#0000ff" stroke-width="1.80"/><rect x="975.05" y="260.65" width="12.50" height="12.50" fill="#0000ff"/>
<path d="M1072.77,264.90 V283.10" stroke="#0000ff" stroke-width="2.90"/><path d="M1063.17,264.90 h19.20 M1063.17,283.10 h19.20" stroke="#0000ff" stroke-width="1.80"/><rect x="1066.52" y="268.35" width="12.50" height="12.50" fill="#0000ff"/>
<path d="M1164.24,302.90 V313.00" stroke="#0000ff" stroke-width="2.90"/><path d="M1154.64,302.90 h19.20 M1154.64,313.00 h19.20" stroke="#0000ff" stroke-width="1.80"/><rect x="1157.99" y="301.85" width="12.50" height="12.50" fill="#0000ff"/>
<path d="M1255.71,317.90 V330.20" stroke="#0000ff" stroke-width="2.90"/><path d="M1246.11,317.90 h19.20 M1246.11,330.20 h19.20" stroke="#0000ff" stroke-width="1.80"/><rect x="1249.46" y="317.95" width="12.50" height="12.50" fill="#0000ff"/>
<path d="M1347.18,322.50 V334.30" stroke="#0000ff" stroke-width="2.90"/><path d="M1337.58,322.50 h19.20 M1337.58,334.30 h19.20" stroke="#0000ff" stroke-width="1.80"/><rect x="1340.93" y="321.95" width="12.50" height="12.50" fill="#0000ff"/>
<path d="M1438.65,339.50 V347.50" stroke="#0000ff" stroke-width="2.90"/><path d="M1429.05,339.50 h19.20 M1429.05,347.50 h19.20" stroke="#0000ff" stroke-width="1.80"/><rect x="1432.40" y="337.55" width="12.50" height="12.50" fill="#0000ff"/>
<path d="M981.30,186.10 V205.10" stroke="#ff00ff" stroke-width="2.90"/><path d="M971.70,186.10 h19.20 M971.70,205.10 h19.20" stroke="#ff00ff" stroke-width="1.80"/><rect x="975.05" y="189.45" width="12.50" height="12.50" fill="#ff00ff"/>
<path d="M1072.77,141.80 V164.80" stroke="#ff00ff" stroke-width="2.90"/><path d="M1063.17,141.80 h19.20 M1063.17,164.80 h19.20" stroke="#ff00ff" stroke-width="1.80"/><rect x="1066.52" y="147.75" width="12.50" height="12.50" fill="#ff00ff"/>
<path d="M1164.24,99.50 V137.80" stroke="#ff00ff" stroke-width="2.90"/><path d="M1154.64,99.50 h19.20 M1154.64,137.80 h19.20" stroke="#ff00ff" stroke-width="1.80"/><rect x="1157.99" y="112.85" width="12.50" height="12.50" fill="#ff00ff"/>
<path d="M1255.71,88.60 V123.70" stroke="#ff00ff" stroke-width="2.90"/><path d="M1246.11,88.60 h19.20 M1246.11,123.70 h19.20" stroke="#ff00ff" stroke-width="1.80"/><rect x="1249.46" y="99.95" width="12.50" height="12.50" fill="#ff00ff"/>
<path d="M1347.18,79.40 V102.70" stroke="#ff00ff" stroke-width="2.90"/><path d="M1337.58,79.40 h19.20 M1337.58,102.70 h19.20" stroke="#ff00ff" stroke-width="1.80"/><rect x="1340.93" y="84.65" width="12.50" height="12.50" fill="#ff00ff"/>
<path d="M1438.65,67.90 V85.40" stroke="#ff00ff" stroke-width="2.90"/><path d="M1429.05,67.90 h19.20 M1429.05,85.40 h19.20" stroke="#ff00ff" stroke-width="1.80"/><rect x="1432.40" y="70.25" width="12.50" height="12.50" fill="#ff00ff"/>
</g>
<path d="M981.30,583.20 V577.40 M1209.97,583.20 V577.40 M1438.65,583.20 V577.40 M862.10,528.90 H867.90 M862.10,387.74 H867.90 M862.10,246.58 H867.90 M862.10,105.42 H867.90" stroke="#000" stroke-width="1.3"/>
<rect x="862.1" y="24.6" width="604.1" height="558.6" fill="none" stroke="#000" stroke-width="1.6"/>
<rect x="874.3" y="354.0" width="531.8" height="61.5" rx="6" ry="6" fill="#ffffff" fill-opacity="0.8" stroke="#cccccc" stroke-opacity="0.8" stroke-width="1.6"/>
<path d="M925.00,363.00 V399.50" stroke="#2ca02c" stroke-width="2.90"/><path d="M915.40,363.00 h19.20 M915.40,399.50 h19.20" stroke="#2ca02c" stroke-width="1.80"/><rect x="918.75" y="375.25" width="12.50" height="12.50" fill="#2ca02c"/>
<path d="M1062.40,363.00 V399.50" stroke="#000000" stroke-width="2.90"/><path d="M1052.80,363.00 h19.20 M1052.80,399.50 h19.20" stroke="#000000" stroke-width="1.80"/><rect x="1056.15" y="375.25" width="12.50" height="12.50" fill="#000000"/>
<path d="M1209.20,363.00 V399.50" stroke="#0000ff" stroke-width="2.90"/><path d="M1199.60,363.00 h19.20 M1199.60,399.50 h19.20" stroke="#0000ff" stroke-width="1.80"/><rect x="1202.95" y="375.25" width="12.50" height="12.50" fill="#0000ff"/>
<path d="M1320.50,363.00 V399.50" stroke="#ff00ff" stroke-width="2.90"/><path d="M1310.90,363.00 h19.20 M1310.90,399.50 h19.20" stroke="#ff00ff" stroke-width="1.80"/><rect x="1314.25" y="375.25" width="12.50" height="12.50" fill="#ff00ff"/>
<text x="961.30" y="394.40" font-size="35.00" font-style="italic" textLength="21.02" lengthAdjust="spacingAndGlyphs">α</text>
<text x="983.63" y="399.80" font-size="26.25" textLength="38.69" lengthAdjust="spacingAndGlyphs">end</text>
<text x="1098.70" y="394.40" font-size="35.00" font-style="italic" textLength="21.02" lengthAdjust="spacingAndGlyphs">α</text>
<text x="1121.30" y="399.80" font-size="26.25" textLength="47.20" lengthAdjust="spacingAndGlyphs">bulk</text>
<text x="1245.80" y="394.40" font-size="35.00" font-style="italic" textLength="21.02" lengthAdjust="spacingAndGlyphs">α</text>
<text x="1267.40" y="399.80" font-size="26.25" textLength="12.50" lengthAdjust="spacingAndGlyphs">1</text>
<text x="1357.30" y="394.40" font-size="35.00" font-style="italic" textLength="21.02" lengthAdjust="spacingAndGlyphs">α</text>
<text x="1378.78" y="399.80" font-size="26.25" textLength="13.87" lengthAdjust="spacingAndGlyphs">2</text>
<text x="812.88" y="118.02" font-size="37.20" textLength="43.46" lengthAdjust="spacingAndGlyphs">0.6</text>
<text x="812.89" y="259.18" font-size="37.20" textLength="42.96" lengthAdjust="spacingAndGlyphs">0.4</text>
<text x="812.85" y="400.34" font-size="37.20" textLength="44.44" lengthAdjust="spacingAndGlyphs">0.2</text>
<text x="812.87" y="541.50" font-size="37.20" textLength="43.76" lengthAdjust="spacingAndGlyphs">0.0</text>
<text x="942.61" y="617.26" font-size="37.20" textLength="26.99" lengthAdjust="spacingAndGlyphs">−</text><text x="969.72" y="614.40" font-size="37.20" textLength="50.97" lengthAdjust="spacingAndGlyphs">650</text>
<text x="1171.28" y="617.26" font-size="37.20" textLength="26.99" lengthAdjust="spacingAndGlyphs">−</text><text x="1198.40" y="614.40" font-size="37.20" textLength="50.97" lengthAdjust="spacingAndGlyphs">600</text>
<text x="1399.96" y="617.26" font-size="37.20" textLength="26.99" lengthAdjust="spacingAndGlyphs">−</text><text x="1426.51" y="614.40" font-size="37.20" textLength="51.55" lengthAdjust="spacingAndGlyphs">550</text>
<text x="1101.86" y="655.00" font-size="36.50" font-style="italic" textLength="23.91" lengthAdjust="spacingAndGlyphs">V</text><text x="1121.84" y="659.30" font-size="26.25" textLength="13.81" lengthAdjust="spacingAndGlyphs">g</text><text x="1148.45" y="655.00" font-size="36.50" textLength="76.33" lengthAdjust="spacingAndGlyphs">(mV)</text>
<text transform="translate(800.60,441.50) rotate(-90)" x="-1.28" y="0" font-size="36.50" textLength="278.83" lengthAdjust="spacingAndGlyphs">dimensionless units</text>
<text x="771.94" y="25.30" font-size="37.80" font-weight="bold" textLength="27.68" lengthAdjust="spacingAndGlyphs">B</text>
<g clip-path="url(#clipC)" fill="none">
<path d="M871.92,957.70 V983.40" stroke="#2ca02c" stroke-width="2.90"/><path d="M862.32,957.70 h19.20 M862.32,983.40 h19.20" stroke="#2ca02c" stroke-width="1.80"/><rect x="865.67" y="964.05" width="12.50" height="12.50" fill="#2ca02c"/>
<path d="M904.90,950.70 V976.90" stroke="#2ca02c" stroke-width="2.90"/><path d="M895.30,950.70 h19.20 M895.30,976.90 h19.20" stroke="#2ca02c" stroke-width="1.80"/><rect x="898.65" y="957.55" width="12.50" height="12.50" fill="#2ca02c"/>
<path d="M937.88,925.50 V955.00" stroke="#2ca02c" stroke-width="2.90"/><path d="M928.28,925.50 h19.20 M928.28,955.00 h19.20" stroke="#2ca02c" stroke-width="1.80"/><rect x="931.63" y="934.15" width="12.50" height="12.50" fill="#2ca02c"/>
<path d="M970.86,910.50 V941.10" stroke="#2ca02c" stroke-width="2.90"/><path d="M961.26,910.50 h19.20 M961.26,941.10 h19.20" stroke="#2ca02c" stroke-width="1.80"/><rect x="964.61" y="919.75" width="12.50" height="12.50" fill="#2ca02c"/>
<path d="M1003.84,903.10 V934.10" stroke="#2ca02c" stroke-width="2.90"/><path d="M994.24,903.10 h19.20 M994.24,934.10 h19.20" stroke="#2ca02c" stroke-width="1.80"/><rect x="997.59" y="912.35" width="12.50" height="12.50" fill="#2ca02c"/>
<path d="M1036.82,878.10 V912.00" stroke="#2ca02c" stroke-width="2.90"/><path d="M1027.22,878.10 h19.20 M1027.22,912.00 h19.20" stroke="#2ca02c" stroke-width="1.80"/><rect x="1030.57" y="888.95" width="12.50" height="12.50" fill="#2ca02c"/>
<path d="M1069.80,861.10 V897.20" stroke="#2ca02c" stroke-width="2.90"/><path d="M1060.20,861.10 h19.20 M1060.20,897.20 h19.20" stroke="#2ca02c" stroke-width="1.80"/><rect x="1063.55" y="872.75" width="12.50" height="12.50" fill="#2ca02c"/>
<path d="M871.92,794.10 V831.60" stroke="#e377c2" stroke-width="2.90"/><path d="M862.32,794.10 h19.20 M862.32,831.60 h19.20" stroke="#e377c2" stroke-width="1.80"/><rect x="865.67" y="806.35" width="12.50" height="12.50" fill="#e377c2"/>
<path d="M904.90,780.70 V818.70" stroke="#e377c2" stroke-width="2.90"/><path d="M895.30,780.70 h19.20 M895.30,818.70 h19.20" stroke="#e377c2" stroke-width="1.80"/><rect x="898.65" y="793.25" width="12.50" height="12.50" fill="#e377c2"/>
<path d="M937.88,797.10 V833.20" stroke="#e377c2" stroke-width="2.90"/><path d="M928.28,797.10 h19.20 M928.28,833.20 h19.20" stroke="#e377c2" stroke-width="1.80"/><rect x="931.63" y="808.95" width="12.50" height="12.50" fill="#e377c2"/>
<path d="M970.86,786.20 V822.70" stroke="#e377c2" stroke-width="2.90"/><path d="M961.26,786.20 h19.20 M961.26,822.70 h19.20" stroke="#e377c2" stroke-width="1.80"/><rect x="964.61" y="798.05" width="12.50" height="12.50" fill="#e377c2"/>
<path d="M1003.84,812.00 V845.60" stroke="#e377c2" stroke-width="2.90"/><path d="M994.24,812.00 h19.20 M994.24,845.60 h19.20" stroke="#e377c2" stroke-width="1.80"/><rect x="997.59" y="822.55" width="12.50" height="12.50" fill="#e377c2"/>
<path d="M1036.82,801.50 V835.60" stroke="#e377c2" stroke-width="2.90"/><path d="M1027.22,801.50 h19.20 M1027.22,835.60 h19.20" stroke="#e377c2" stroke-width="1.80"/><rect x="1030.57" y="812.25" width="12.50" height="12.50" fill="#e377c2"/>
<path d="M1069.80,813.30 V845.60" stroke="#e377c2" stroke-width="2.90"/><path d="M1060.20,813.30 h19.20 M1060.20,845.60 h19.20" stroke="#e377c2" stroke-width="1.80"/><rect x="1063.55" y="823.15" width="12.50" height="12.50" fill="#e377c2"/>
<path d="M871.92,912.00 V924.00" stroke="#000000" stroke-width="2.90"/><path d="M862.32,912.00 h19.20 M862.32,924.00 h19.20" stroke="#000000" stroke-width="1.80"/><rect x="865.67" y="911.65" width="12.50" height="12.50" fill="#000000"/>
<path d="M904.90,903.10 V915.30" stroke="#000000" stroke-width="2.90"/><path d="M895.30,903.10 h19.20 M895.30,915.30 h19.20" stroke="#000000" stroke-width="1.80"/><rect x="898.65" y="902.95" width="12.50" height="12.50" fill="#000000"/>
<path d="M937.88,894.10 V906.50" stroke="#000000" stroke-width="2.90"/><path d="M928.28,894.10 h19.20 M928.28,906.50 h19.20" stroke="#000000" stroke-width="1.80"/><rect x="931.63" y="894.15" width="12.50" height="12.50" fill="#000000"/>
<path d="M970.86,876.80 V889.10" stroke="#000000" stroke-width="2.90"/><path d="M961.26,876.80 h19.20 M961.26,889.10 h19.20" stroke="#000000" stroke-width="1.80"/><rect x="964.61" y="876.75" width="12.50" height="12.50" fill="#000000"/>
<path d="M1003.84,867.90 V880.10" stroke="#000000" stroke-width="2.90"/><path d="M994.24,867.90 h19.20 M994.24,880.10 h19.20" stroke="#000000" stroke-width="1.80"/><rect x="997.59" y="867.95" width="12.50" height="12.50" fill="#000000"/>
<path d="M1036.82,859.40 V871.60" stroke="#000000" stroke-width="2.90"/><path d="M1027.22,859.40 h19.20 M1027.22,871.60 h19.20" stroke="#000000" stroke-width="1.80"/><rect x="1030.57" y="859.25" width="12.50" height="12.50" fill="#000000"/>
<path d="M1069.80,850.60 V862.60" stroke="#000000" stroke-width="2.90"/><path d="M1060.20,850.60 h19.20 M1060.20,862.60 h19.20" stroke="#000000" stroke-width="1.80"/><rect x="1063.55" y="850.45" width="12.50" height="12.50" fill="#000000"/>
</g>
<path d="M904.90,994.00 V988.20 M987.35,994.00 V988.20 M1069.80,994.00 V988.20 M862.10,801.50 H867.90 M862.10,883.20 H867.90 M862.10,964.90 H867.90" stroke="#000" stroke-width="1.3"/>
<rect x="862.1" y="770.5" width="217.4" height="223.5" fill="none" stroke="#000" stroke-width="1.6"/>
<rect x="833.6" y="704.4" width="280.1" height="50.8" rx="6" ry="6" fill="#ffffff" fill-opacity="0.8" stroke="#cccccc" stroke-opacity="0.8" stroke-width="1.6"/>
<path d="M876.00,711.60 V741.80" stroke="#2ca02c" stroke-width="2.90"/><path d="M866.40,711.60 h19.20 M866.40,741.80 h19.20" stroke="#2ca02c" stroke-width="1.80"/><rect x="870.00" y="720.70" width="12.00" height="12.00" fill="#2ca02c"/>
<path d="M959.30,711.60 V741.80" stroke="#e377c2" stroke-width="2.90"/><path d="M949.70,711.60 h19.20 M949.70,741.80 h19.20" stroke="#e377c2" stroke-width="1.80"/><rect x="953.30" y="720.70" width="12.00" height="12.00" fill="#e377c2"/>
<path d="M1043.40,711.60 V741.80" stroke="#000000" stroke-width="2.90"/><path d="M1033.80,711.60 h19.20 M1033.80,741.80 h19.20" stroke="#000000" stroke-width="1.80"/><rect x="1037.40" y="720.70" width="12.00" height="12.00" fill="#000000"/>
<text x="906.56" y="737.60" font-size="30.00" font-style="italic" textLength="14.04" lengthAdjust="spacingAndGlyphs">v</text>
<text x="920.00" y="742.20" font-size="21.00" textLength="9.23" lengthAdjust="spacingAndGlyphs">s</text>
<text x="990.06" y="737.60" font-size="30.00" font-style="italic" textLength="14.04" lengthAdjust="spacingAndGlyphs">v</text>
<text x="1003.67" y="742.20" font-size="21.00" textLength="9.68" lengthAdjust="spacingAndGlyphs">c</text>
<text x="1074.06" y="737.60" font-size="30.00" font-style="italic" textLength="14.04" lengthAdjust="spacingAndGlyphs">v</text>
<text x="1087.79" y="742.20" font-size="21.00" textLength="14.13" lengthAdjust="spacingAndGlyphs">F</text>
<text x="806.42" y="813.90" font-size="37.20" textLength="50.46" lengthAdjust="spacingAndGlyphs">200</text>
<text x="804.84" y="895.60" font-size="37.20" textLength="52.07" lengthAdjust="spacingAndGlyphs">150</text>
<text x="804.84" y="977.30" font-size="37.20" textLength="52.07" lengthAdjust="spacingAndGlyphs">100</text>
<text x="866.46" y="1027.56" font-size="37.20" textLength="26.99" lengthAdjust="spacingAndGlyphs">−</text><text x="893.58" y="1024.70" font-size="37.20" textLength="50.76" lengthAdjust="spacingAndGlyphs">650</text>
<text x="948.91" y="1027.56" font-size="37.20" textLength="26.99" lengthAdjust="spacingAndGlyphs">−</text><text x="976.03" y="1024.70" font-size="37.20" textLength="50.76" lengthAdjust="spacingAndGlyphs">600</text>
<text x="1031.36" y="1027.56" font-size="37.20" textLength="26.99" lengthAdjust="spacingAndGlyphs">−</text><text x="1057.92" y="1024.70" font-size="37.20" textLength="51.34" lengthAdjust="spacingAndGlyphs">550</text>
<text x="908.36" y="1065.40" font-size="36.50" font-style="italic" textLength="23.91" lengthAdjust="spacingAndGlyphs">V</text><text x="928.34" y="1069.70" font-size="26.25" textLength="13.81" lengthAdjust="spacingAndGlyphs">g</text><text x="954.95" y="1065.40" font-size="36.50" textLength="76.33" lengthAdjust="spacingAndGlyphs">(mV)</text>
<text transform="translate(791.30,947.50) rotate(-90)" x="-0.55" y="0" font-size="36.50" font-style="italic" textLength="17.44" lengthAdjust="spacingAndGlyphs">v</text>
<text transform="translate(791.30,914.40) rotate(-90)" x="-1.67" y="0" font-size="36.50" textLength="98.89" lengthAdjust="spacingAndGlyphs">(km/s)</text>
<text x="785.88" y="741.40" font-size="37.80" font-weight="bold" textLength="31.88" lengthAdjust="spacingAndGlyphs">C</text>
<g clip-path="url(#clipD)" fill="none">
<path d="M1239.5,891.2 H1466.1" stroke="#1f77b4" stroke-width="3.2" stroke-dasharray="11.65,5.05"/>
<path d="M1266.80,781.00 V835.30" stroke="#2ca02c" stroke-width="2.90"/><path d="M1257.20,781.00 h19.20 M1257.20,835.30 h19.20" stroke="#2ca02c" stroke-width="1.80"/><rect x="1260.55" y="802.05" width="12.50" height="12.50" fill="#2ca02c"/>
<path d="M1303.06,814.10 V862.20" stroke="#2ca02c" stroke-width="2.90"/><path d="M1293.46,814.10 h19.20 M1293.46,862.20 h19.20" stroke="#2ca02c" stroke-width="1.80"/><rect x="1296.81" y="831.95" width="12.50" height="12.50" fill="#2ca02c"/>
<path d="M1339.32,815.20 V861.10" stroke="#2ca02c" stroke-width="2.90"/><path d="M1329.72,815.20 h19.20 M1329.72,861.10 h19.20" stroke="#2ca02c" stroke-width="1.80"/><rect x="1333.07" y="831.95" width="12.50" height="12.50" fill="#2ca02c"/>
<path d="M1375.58,815.90 V860.70" stroke="#2ca02c" stroke-width="2.90"/><path d="M1365.98,815.90 h19.20 M1365.98,860.70 h19.20" stroke="#2ca02c" stroke-width="1.80"/><rect x="1369.33" y="831.95" width="12.50" height="12.50" fill="#2ca02c"/>
<path d="M1411.84,838.80 V879.70" stroke="#2ca02c" stroke-width="2.90"/><path d="M1402.24,838.80 h19.20 M1402.24,879.70 h19.20" stroke="#2ca02c" stroke-width="1.80"/><rect x="1405.59" y="853.15" width="12.50" height="12.50" fill="#2ca02c"/>
<path d="M1448.10,848.70 V888.00" stroke="#2ca02c" stroke-width="2.90"/><path d="M1438.50,848.70 h19.20 M1438.50,888.00 h19.20" stroke="#2ca02c" stroke-width="1.80"/><rect x="1441.85" y="862.05" width="12.50" height="12.50" fill="#2ca02c"/>
<path d="M1266.80,964.20 V983.40" stroke="#e377c2" stroke-width="2.90"/><path d="M1257.20,964.20 h19.20 M1257.20,983.40 h19.20" stroke="#e377c2" stroke-width="1.80"/><rect x="1260.55" y="967.35" width="12.50" height="12.50" fill="#e377c2"/>
<path d="M1303.06,948.00 V969.20" stroke="#e377c2" stroke-width="2.90"/><path d="M1293.46,948.00 h19.20 M1293.46,969.20 h19.20" stroke="#e377c2" stroke-width="1.80"/><rect x="1296.81" y="952.25" width="12.50" height="12.50" fill="#e377c2"/>
<path d="M1339.32,940.80 V961.60" stroke="#e377c2" stroke-width="2.90"/><path d="M1329.72,940.80 h19.20 M1329.72,961.60 h19.20" stroke="#e377c2" stroke-width="1.80"/><rect x="1333.07" y="944.85" width="12.50" height="12.50" fill="#e377c2"/>
<path d="M1375.58,916.80 V939.80" stroke="#e377c2" stroke-width="2.90"/><path d="M1365.98,916.80 h19.20 M1365.98,939.80 h19.20" stroke="#e377c2" stroke-width="1.80"/><rect x="1369.33" y="922.15" width="12.50" height="12.50" fill="#e377c2"/>
<path d="M1411.84,917.30 V939.80" stroke="#e377c2" stroke-width="2.90"/><path d="M1402.24,917.30 h19.20 M1402.24,939.80 h19.20" stroke="#e377c2" stroke-width="1.80"/><rect x="1405.59" y="922.15" width="12.50" height="12.50" fill="#e377c2"/>
<path d="M1448.10,901.50 V925.80" stroke="#e377c2" stroke-width="2.90"/><path d="M1438.50,901.50 h19.20 M1438.50,925.80 h19.20" stroke="#e377c2" stroke-width="1.80"/><rect x="1441.85" y="907.25" width="12.50" height="12.50" fill="#e377c2"/>
</g>
<path d="M1266.80,993.90 V988.10 M1357.45,993.90 V988.10 M1448.10,993.90 V988.10 M1248.90,829.00 H1254.70 M1248.90,891.20 H1254.70 M1248.90,953.50 H1254.70" stroke="#000" stroke-width="1.3"/>
<rect x="1248.9" y="770.5" width="217.2" height="223.4" fill="none" stroke="#000" stroke-width="1.6"/>
<rect x="1231.7" y="704.4" width="268" height="51.1" rx="6" ry="6" fill="#ffffff" fill-opacity="0.8" stroke="#cccccc" stroke-opacity="0.8" stroke-width="1.6"/>
<path d="M1243.4,726.4 H1285.8" stroke="#1f77b4" stroke-width="3.2" stroke-dasharray="11.65,5.05"/>
<text x="1286.06" y="737.40" font-size="30.00" textLength="43.69" lengthAdjust="spacingAndGlyphs">free</text>
<path d="M1353.50,711.40 V742.00" stroke="#2ca02c" stroke-width="2.90"/><path d="M1343.90,711.40 h19.20 M1343.90,742.00 h19.20" stroke="#2ca02c" stroke-width="1.80"/><rect x="1347.50" y="720.70" width="12.00" height="12.00" fill="#2ca02c"/>
<path d="M1432.40,711.40 V742.00" stroke="#e377c2" stroke-width="2.90"/><path d="M1422.80,711.40 h19.20 M1422.80,742.00 h19.20" stroke="#e377c2" stroke-width="1.80"/><rect x="1426.40" y="720.70" width="12.00" height="12.00" fill="#e377c2"/>
<text x="1376.42" y="737.70" font-size="30.00" font-style="italic" textLength="23.19" lengthAdjust="spacingAndGlyphs">K</text>
<text x="1399.15" y="742.20" font-size="21.00" textLength="9.73" lengthAdjust="spacingAndGlyphs">s</text>
<text x="1455.92" y="737.70" font-size="30.00" font-style="italic" textLength="23.19" lengthAdjust="spacingAndGlyphs">K</text>
<text x="1478.91" y="742.20" font-size="21.00" textLength="9.21" lengthAdjust="spacingAndGlyphs">c</text>
<text x="1183.49" y="841.60" font-size="37.20" textLength="59.88" lengthAdjust="spacingAndGlyphs">1.25</text>
<text x="1183.49" y="903.80" font-size="37.20" textLength="59.81" lengthAdjust="spacingAndGlyphs">1.00</text>
<text x="1185.24" y="966.10" font-size="37.20" textLength="58.09" lengthAdjust="spacingAndGlyphs">0.75</text>
<text x="1228.36" y="1027.56" font-size="37.20" textLength="26.99" lengthAdjust="spacingAndGlyphs">−</text><text x="1255.48" y="1024.70" font-size="37.20" textLength="50.76" lengthAdjust="spacingAndGlyphs">650</text>
<text x="1319.01" y="1027.56" font-size="37.20" textLength="26.99" lengthAdjust="spacingAndGlyphs">−</text><text x="1346.13" y="1024.70" font-size="37.20" textLength="50.76" lengthAdjust="spacingAndGlyphs">600</text>
<text x="1409.66" y="1027.56" font-size="37.20" textLength="26.99" lengthAdjust="spacingAndGlyphs">−</text><text x="1436.22" y="1024.70" font-size="37.20" textLength="51.34" lengthAdjust="spacingAndGlyphs">550</text>
<text x="1295.21" y="1065.40" font-size="36.50" font-style="italic" textLength="23.91" lengthAdjust="spacingAndGlyphs">V</text><text x="1315.19" y="1069.70" font-size="26.25" textLength="13.81" lengthAdjust="spacingAndGlyphs">g</text><text x="1341.80" y="1065.40" font-size="36.50" textLength="76.33" lengthAdjust="spacingAndGlyphs">(mV)</text>
<text transform="translate(1170.80,1020.10) rotate(-90)" x="-1.28" y="0" font-size="36.50" textLength="278.83" lengthAdjust="spacingAndGlyphs">dimensionless units</text>
<text x="1182.03" y="741.20" font-size="37.80" font-weight="bold" textLength="30.82" lengthAdjust="spacingAndGlyphs">D</text></svg>
</body></html>
